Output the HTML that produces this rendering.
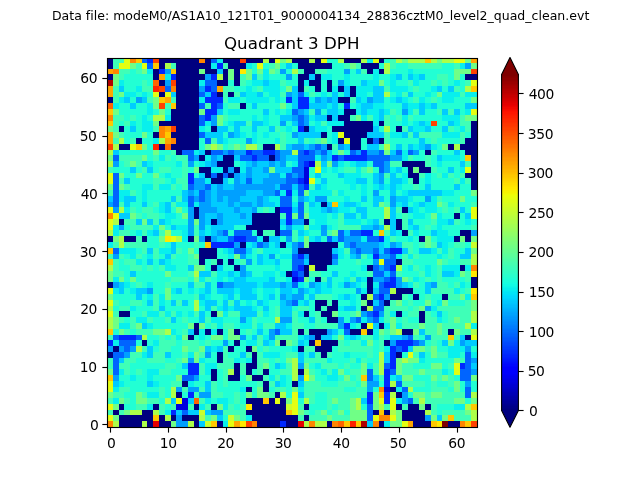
<!DOCTYPE html>
<html lang="en"><head><meta charset="utf-8"><title>Quadrant 3 DPH</title>
<style>html,body{margin:0;padding:0;background:#fff;overflow:hidden}svg{display:block}text{font-family:'DejaVu Sans','Liberation Sans',sans-serif;fill:#000;font-variant-ligatures:none;font-kerning:none}</style></head><body>
<svg width="640" height="480" viewBox="0 0 640 480">
<rect width="640" height="480" fill="#fff"/>
<g shape-rendering="crispEdges">
<path fill="#00007f" d="M107 58h6v5h-6zM159 58h40v5h-40zM205 58h6v5h-6zM223 58h17v5h-17zM246 58h17v5h-17zM269 58h6v5h-6zM292 58h17v5h-17zM315 58h6v5h-6zM344 58h17v5h-17zM379 58h5v5h-5zM107 63h6v6h-6zM159 63h6v6h-6zM176 63h35v6h-35zM228 63h18v6h-18zM298 63h34v6h-34zM361 63h18v6h-18zM153 69h6v5h-6zM176 69h23v5h-23zM205 69h12v5h-12zM223 69h5v5h-5zM234 69h6v5h-6zM304 69h11v5h-11zM367 69h6v5h-6zM379 69h5v5h-5zM107 74h6v6h-6zM153 74h6v6h-6zM176 74h29v6h-29zM223 74h5v6h-5zM234 74h6v6h-6zM298 74h11v6h-11zM315 74h6v6h-6zM465 74h12v6h-12zM159 80h6v6h-6zM176 80h23v6h-23zM217 80h11v6h-11zM234 80h6v6h-6zM298 80h6v6h-6zM309 80h12v6h-12zM327 80h5v6h-5zM176 86h23v6h-23zM298 86h6v6h-6zM315 86h6v6h-6zM327 86h5v6h-5zM338 86h6v6h-6zM350 86h6v6h-6zM159 92h6v5h-6zM176 92h23v5h-23zM217 92h6v5h-6zM228 92h6v5h-6zM350 92h6v5h-6zM107 97h6v6h-6zM176 97h23v6h-23zM338 97h12v6h-12zM176 103h23v6h-23zM240 103h6v6h-6zM171 109h28v6h-28zM344 109h12v6h-12zM171 115h28v6h-28zM327 115h5v6h-5zM338 115h12v6h-12zM159 121h40v5h-40zM344 121h29v5h-29zM379 121h5v5h-5zM471 121h6v5h-6zM119 126h5v6h-5zM176 126h23v6h-23zM211 126h6v6h-6zM304 126h5v6h-5zM332 126h41v6h-41zM396 126h6v6h-6zM471 126h6v6h-6zM153 132h6v6h-6zM171 132h28v6h-28zM321 132h6v6h-6zM344 132h23v6h-23zM471 132h6v6h-6zM136 138h6v6h-6zM176 138h23v6h-23zM338 138h6v6h-6zM350 138h11v6h-11zM367 138h6v6h-6zM379 138h5v6h-5zM465 138h12v6h-12zM119 144h11v6h-11zM159 144h6v6h-6zM171 144h28v6h-28zM263 144h12v6h-12zM327 144h5v6h-5zM350 144h11v6h-11zM448 144h6v6h-6zM460 144h17v6h-17zM176 150h6v5h-6zM205 150h6v5h-6zM425 150h6v5h-6zM465 150h12v5h-12zM199 155h6v6h-6zM223 155h11v6h-11zM269 155h6v6h-6zM471 155h6v6h-6zM217 161h17v6h-17zM402 161h23v6h-23zM471 161h6v6h-6zM199 167h12v6h-12zM223 167h5v6h-5zM234 167h6v6h-6zM408 167h5v6h-5zM419 167h12v6h-12zM471 167h6v6h-6zM205 173h6v5h-6zM217 173h6v5h-6zM228 173h6v5h-6zM408 173h11v5h-11zM465 173h12v5h-12zM211 178h12v6h-12zM413 178h6v6h-6zM471 178h6v6h-6zM471 184h6v6h-6zM321 202h6v5h-6zM194 207h5v6h-5zM275 207h5v6h-5zM402 207h6v6h-6zM194 213h5v6h-5zM252 213h28v6h-28zM454 213h6v6h-6zM119 219h5v6h-5zM211 219h6v6h-6zM252 219h28v6h-28zM304 219h5v6h-5zM384 219h6v6h-6zM396 219h6v6h-6zM246 225h34v5h-34zM396 225h6v5h-6zM257 230h6v6h-6zM275 230h5v6h-5zM402 230h6v6h-6zM460 230h11v6h-11zM107 236h6v6h-6zM124 236h12v6h-12zM142 236h5v6h-5zM188 236h6v6h-6zM205 236h6v6h-6zM263 236h6v6h-6zM419 236h6v6h-6zM454 236h6v6h-6zM465 236h6v6h-6zM240 242h6v6h-6zM280 242h6v6h-6zM309 242h29v6h-29zM199 248h18v6h-18zM298 248h34v6h-34zM199 254h18v5h-18zM309 254h23v5h-23zM199 259h6v6h-6zM217 259h6v6h-6zM228 259h6v6h-6zM309 259h23v6h-23zM396 259h6v6h-6zM211 265h6v6h-6zM234 265h6v6h-6zM304 265h5v6h-5zM315 265h12v6h-12zM367 265h6v6h-6zM460 265h5v6h-5zM286 271h6v6h-6zM304 271h5v6h-5zM315 277h6v5h-6zM367 277h6v5h-6zM471 277h6v5h-6zM107 282h6v6h-6zM367 282h6v6h-6zM471 282h6v6h-6zM367 288h6v6h-6zM396 288h17v6h-17zM361 294h6v6h-6zM390 294h12v6h-12zM413 294h6v6h-6zM442 294h6v6h-6zM315 300h12v6h-12zM332 300h6v6h-6zM367 300h6v6h-6zM384 300h6v6h-6zM315 306h6v5h-6zM327 306h11v5h-11zM361 306h6v5h-6zM119 311h11v6h-11zM211 311h6v6h-6zM304 311h5v6h-5zM321 311h11v6h-11zM396 311h6v6h-6zM419 311h6v6h-6zM327 317h11v6h-11zM419 317h6v6h-6zM194 323h5v6h-5zM361 323h6v6h-6zM379 323h5v6h-5zM194 329h5v6h-5zM205 329h6v6h-6zM217 329h6v6h-6zM234 329h6v6h-6zM298 329h6v6h-6zM309 329h18v6h-18zM350 329h11v6h-11zM367 329h6v6h-6zM402 329h11v6h-11zM448 329h6v6h-6zM188 335h6v5h-6zM315 335h6v5h-6zM465 335h6v5h-6zM142 340h5v6h-5zM234 340h6v6h-6zM280 340h6v6h-6zM309 340h6v6h-6zM321 340h17v6h-17zM384 340h6v6h-6zM113 346h6v6h-6zM228 346h6v6h-6zM246 346h6v6h-6zM298 346h6v6h-6zM315 346h17v6h-17zM107 352h6v6h-6zM217 352h6v6h-6zM252 352h5v6h-5zM321 352h6v6h-6zM396 352h6v6h-6zM217 358h6v5h-6zM252 358h5v5h-5zM234 363h6v6h-6zM246 363h11v6h-11zM211 369h6v6h-6zM234 369h6v6h-6zM246 369h6v6h-6zM263 369h6v6h-6zM298 369h6v6h-6zM211 375h6v6h-6zM228 375h12v6h-12zM252 375h11v6h-11zM182 381h6v6h-6zM263 381h6v6h-6zM292 381h6v6h-6zM246 387h6v5h-6zM263 387h6v5h-6zM390 387h6v5h-6zM176 392h6v6h-6zM275 392h5v6h-5zM396 392h6v6h-6zM246 398h17v6h-17zM269 398h6v6h-6zM280 398h6v6h-6zM119 404h5v6h-5zM153 404h6v6h-6zM194 404h5v6h-5zM211 404h6v6h-6zM252 404h34v6h-34zM304 404h5v6h-5zM396 404h6v6h-6zM408 404h11v6h-11zM425 404h6v6h-6zM113 410h6v5h-6zM142 410h11v5h-11zM246 410h40v5h-40zM373 410h6v5h-6zM384 410h6v5h-6zM402 410h23v5h-23zM119 415h34v6h-34zM159 415h6v6h-6zM171 415h5v6h-5zM182 415h17v6h-17zM252 415h46v6h-46zM304 415h5v6h-5zM402 415h23v6h-23zM119 421h23v7h-23zM147 421h6v7h-6zM159 421h12v7h-12zM194 421h5v7h-5zM217 421h6v7h-6zM257 421h23v7h-23zM286 421h12v7h-12zM327 421h5v7h-5zM379 421h5v7h-5zM413 421h18v7h-18zM448 421h12v7h-12z"/>
<path fill="#3fffb7" d="M113 58h11v5h-11zM390 58h6v5h-6zM113 63h6v6h-6zM136 63h6v6h-6zM171 63h5v6h-5zM223 63h5v6h-5zM269 63h6v6h-6zM344 63h6v6h-6zM356 63h5v6h-5zM390 63h6v6h-6zM408 63h34v6h-34zM454 63h6v6h-6zM119 69h11v5h-11zM136 69h6v5h-6zM275 69h5v5h-5zM298 69h6v5h-6zM315 69h12v5h-12zM361 69h6v5h-6zM119 74h5v6h-5zM240 74h6v6h-6zM257 74h6v6h-6zM437 74h11v6h-11zM142 80h5v6h-5zM240 80h6v6h-6zM280 80h6v6h-6zM408 80h5v6h-5zM431 80h6v6h-6zM442 80h6v6h-6zM465 80h6v6h-6zM113 86h6v6h-6zM142 86h11v6h-11zM223 86h11v6h-11zM257 86h6v6h-6zM304 86h5v6h-5zM384 86h6v6h-6zM413 86h6v6h-6zM454 86h6v6h-6zM113 92h6v5h-6zM223 92h5v5h-5zM234 92h6v5h-6zM280 92h6v5h-6zM309 92h6v5h-6zM402 92h6v5h-6zM460 92h5v5h-5zM113 97h6v6h-6zM147 97h6v6h-6zM171 97h5v6h-5zM223 97h5v6h-5zM350 97h6v6h-6zM413 97h6v6h-6zM431 97h6v6h-6zM165 103h6v6h-6zM205 103h6v6h-6zM228 103h12v6h-12zM309 109h6v6h-6zM390 109h6v6h-6zM413 109h6v6h-6zM437 109h5v6h-5zM448 109h6v6h-6zM113 115h11v6h-11zM130 115h6v6h-6zM223 115h5v6h-5zM350 115h6v6h-6zM367 115h6v6h-6zM384 115h6v6h-6zM396 115h6v6h-6zM408 115h5v6h-5zM460 115h5v6h-5zM113 121h6v5h-6zM124 121h6v5h-6zM246 121h6v5h-6zM321 121h6v5h-6zM384 121h6v5h-6zM460 121h11v5h-11zM113 126h6v6h-6zM153 126h6v6h-6zM275 126h5v6h-5zM402 126h6v6h-6zM448 126h6v6h-6zM465 126h6v6h-6zM119 132h5v6h-5zM280 132h6v6h-6zM384 132h6v6h-6zM408 132h5v6h-5zM419 132h23v6h-23zM460 132h5v6h-5zM113 138h6v6h-6zM130 138h6v6h-6zM211 138h6v6h-6zM280 138h6v6h-6zM304 138h5v6h-5zM315 138h6v6h-6zM384 138h6v6h-6zM431 138h6v6h-6zM460 138h5v6h-5zM228 144h6v6h-6zM240 144h6v6h-6zM257 144h6v6h-6zM280 144h6v6h-6zM332 144h6v6h-6zM379 144h5v6h-5zM171 150h5v5h-5zM431 150h6v5h-6zM119 155h23v6h-23zM153 155h6v6h-6zM165 155h6v6h-6zM176 155h12v6h-12zM408 155h5v6h-5zM425 155h6v6h-6zM124 161h6v6h-6zM136 161h6v6h-6zM182 161h6v6h-6zM390 161h12v6h-12zM425 161h6v6h-6zM465 161h6v6h-6zM107 167h6v6h-6zM142 167h5v6h-5zM159 167h12v6h-12zM182 167h6v6h-6zM344 167h12v6h-12zM361 167h6v6h-6zM431 167h6v6h-6zM182 173h6v5h-6zM384 173h6v5h-6zM419 173h6v5h-6zM437 173h5v5h-5zM448 173h6v5h-6zM460 173h5v5h-5zM119 178h5v6h-5zM153 178h12v6h-12zM176 178h12v6h-12zM408 178h5v6h-5zM454 178h6v6h-6zM465 178h6v6h-6zM124 184h6v6h-6zM153 184h6v6h-6zM171 184h5v6h-5zM182 184h6v6h-6zM309 184h6v6h-6zM413 184h6v6h-6zM107 190h6v6h-6zM130 190h6v6h-6zM332 190h6v6h-6zM176 196h6v6h-6zM437 196h5v6h-5zM119 202h5v5h-5zM153 202h6v5h-6zM171 202h5v5h-5zM304 202h5v5h-5zM384 202h6v5h-6zM442 202h6v5h-6zM471 202h6v5h-6zM130 207h6v6h-6zM142 207h11v6h-11zM263 207h6v6h-6zM304 207h5v6h-5zM396 207h6v6h-6zM442 207h6v6h-6zM454 207h6v6h-6zM136 213h6v6h-6zM147 213h12v6h-12zM280 213h6v6h-6zM338 213h6v6h-6zM402 213h6v6h-6zM124 219h12v6h-12zM153 219h6v6h-6zM338 219h6v6h-6zM379 219h5v6h-5zM402 219h6v6h-6zM431 219h6v6h-6zM454 219h6v6h-6zM130 225h23v5h-23zM194 225h5v5h-5zM338 225h23v5h-23zM402 225h6v5h-6zM425 225h6v5h-6zM471 225h6v5h-6zM119 230h11v6h-11zM142 230h5v6h-5zM159 230h6v6h-6zM194 230h5v6h-5zM263 230h12v6h-12zM292 230h6v6h-6zM327 230h5v6h-5zM384 230h6v6h-6zM408 230h5v6h-5zM136 236h6v6h-6zM292 236h6v6h-6zM390 236h6v6h-6zM113 242h6v6h-6zM124 242h23v6h-23zM159 242h6v6h-6zM194 242h5v6h-5zM402 242h11v6h-11zM419 242h6v6h-6zM431 242h6v6h-6zM454 242h11v6h-11zM142 248h5v6h-5zM153 248h6v6h-6zM176 248h6v6h-6zM257 248h6v6h-6zM344 248h6v6h-6zM408 248h5v6h-5zM437 248h5v6h-5zM448 248h6v6h-6zM107 254h6v5h-6zM119 254h5v5h-5zM136 254h6v5h-6zM153 254h6v5h-6zM171 254h5v5h-5zM188 254h6v5h-6zM361 254h6v5h-6zM402 254h6v5h-6zM413 254h6v5h-6zM448 254h6v5h-6zM113 259h6v6h-6zM124 259h12v6h-12zM188 259h11v6h-11zM211 259h6v6h-6zM240 259h6v6h-6zM356 259h5v6h-5zM402 259h11v6h-11zM442 259h6v6h-6zM460 259h11v6h-11zM113 265h6v6h-6zM130 265h12v6h-12zM147 265h6v6h-6zM159 265h6v6h-6zM413 265h6v6h-6zM437 265h5v6h-5zM113 271h11v6h-11zM188 271h6v6h-6zM211 271h6v6h-6zM309 271h12v6h-12zM367 271h6v6h-6zM396 271h6v6h-6zM419 271h6v6h-6zM437 271h5v6h-5zM465 271h6v6h-6zM171 277h17v5h-17zM205 277h6v5h-6zM321 277h6v5h-6zM350 277h6v5h-6zM408 277h5v5h-5zM425 277h6v5h-6zM437 277h5v5h-5zM465 277h6v5h-6zM136 282h6v6h-6zM165 282h6v6h-6zM194 282h11v6h-11zM413 282h6v6h-6zM437 282h11v6h-11zM454 282h6v6h-6zM431 288h23v6h-23zM465 288h6v6h-6zM153 294h6v6h-6zM194 294h5v6h-5zM315 294h17v6h-17zM402 294h6v6h-6zM425 294h6v6h-6zM448 294h12v6h-12zM113 300h6v6h-6zM130 300h12v6h-12zM153 300h6v6h-6zM176 300h6v6h-6zM228 300h6v6h-6zM327 300h5v6h-5zM390 300h6v6h-6zM408 300h5v6h-5zM465 300h6v6h-6zM119 306h11v5h-11zM153 306h6v5h-6zM211 306h6v5h-6zM275 306h5v5h-5zM298 306h11v5h-11zM321 306h6v5h-6zM384 306h24v5h-24zM413 306h6v5h-6zM437 306h34v5h-34zM113 311h6v6h-6zM142 311h5v6h-5zM159 311h6v6h-6zM171 311h5v6h-5zM194 311h5v6h-5zM228 311h12v6h-12zM257 311h6v6h-6zM275 311h5v6h-5zM292 311h6v6h-6zM315 311h6v6h-6zM350 311h6v6h-6zM384 311h6v6h-6zM408 311h11v6h-11zM425 311h6v6h-6zM448 311h23v6h-23zM119 317h5v6h-5zM130 317h6v6h-6zM147 317h6v6h-6zM165 317h6v6h-6zM182 317h6v6h-6zM205 317h6v6h-6zM252 317h5v6h-5zM292 317h6v6h-6zM315 317h6v6h-6zM384 317h6v6h-6zM402 317h6v6h-6zM425 317h12v6h-12zM448 317h6v6h-6zM460 317h11v6h-11zM130 323h6v6h-6zM211 323h6v6h-6zM223 323h11v6h-11zM252 323h5v6h-5zM263 323h12v6h-12zM292 323h12v6h-12zM315 323h23v6h-23zM402 323h17v6h-17zM425 323h12v6h-12zM442 323h23v6h-23zM124 329h6v6h-6zM136 329h17v6h-17zM182 329h6v6h-6zM246 329h6v6h-6zM292 329h6v6h-6zM304 329h5v6h-5zM384 329h6v6h-6zM425 329h12v6h-12zM442 329h6v6h-6zM460 329h11v6h-11zM107 335h6v5h-6zM159 335h6v5h-6zM171 335h5v5h-5zM257 335h6v5h-6zM275 335h23v5h-23zM361 335h12v5h-12zM379 335h5v5h-5zM413 335h6v5h-6zM431 335h17v5h-17zM454 335h6v5h-6zM159 340h17v6h-17zM182 340h17v6h-17zM205 340h6v6h-6zM257 340h6v6h-6zM292 340h6v6h-6zM338 340h6v6h-6zM350 340h11v6h-11zM379 340h5v6h-5zM431 340h6v6h-6zM142 346h5v6h-5zM159 346h12v6h-12zM188 346h11v6h-11zM223 346h5v6h-5zM263 346h6v6h-6zM304 346h11v6h-11zM338 346h35v6h-35zM379 346h5v6h-5zM425 346h6v6h-6zM130 352h12v6h-12zM153 352h12v6h-12zM182 352h6v6h-6zM199 352h6v6h-6zM223 352h5v6h-5zM246 352h6v6h-6zM257 352h6v6h-6zM286 352h12v6h-12zM315 352h6v6h-6zM327 352h5v6h-5zM367 352h6v6h-6zM413 352h6v6h-6zM437 352h11v6h-11zM107 358h6v5h-6zM124 358h12v5h-12zM147 358h18v5h-18zM176 358h6v5h-6zM223 358h11v5h-11zM257 358h12v5h-12zM275 358h5v5h-5zM304 358h23v5h-23zM350 358h6v5h-6zM361 358h6v5h-6zM460 358h5v5h-5zM107 363h6v6h-6zM119 363h11v6h-11zM165 363h11v6h-11zM199 363h6v6h-6zM217 363h17v6h-17zM240 363h6v6h-6zM257 363h6v6h-6zM286 363h6v6h-6zM321 363h17v6h-17zM344 363h6v6h-6zM373 363h6v6h-6zM402 363h11v6h-11zM448 363h6v6h-6zM124 369h6v6h-6zM136 369h6v6h-6zM159 369h12v6h-12zM199 369h6v6h-6zM223 369h5v6h-5zM240 369h6v6h-6zM257 369h6v6h-6zM280 369h12v6h-12zM309 369h6v6h-6zM327 369h5v6h-5zM350 369h11v6h-11zM373 369h6v6h-6zM402 369h17v6h-17zM425 369h17v6h-17zM223 375h5v6h-5zM263 375h6v6h-6zM275 375h5v6h-5zM356 375h5v6h-5zM379 375h5v6h-5zM437 375h5v6h-5zM448 375h6v6h-6zM171 381h11v6h-11zM211 381h6v6h-6zM223 381h5v6h-5zM257 381h6v6h-6zM269 381h6v6h-6zM304 381h17v6h-17zM338 381h18v6h-18zM402 381h23v6h-23zM431 381h6v6h-6zM448 381h6v6h-6zM119 387h11v5h-11zM159 387h6v5h-6zM182 387h6v5h-6zM199 387h6v5h-6zM211 387h6v5h-6zM275 387h11v5h-11zM304 387h40v5h-40zM356 387h11v5h-11zM431 387h17v5h-17zM113 392h11v6h-11zM142 392h5v6h-5zM159 392h6v6h-6zM194 392h5v6h-5zM211 392h12v6h-12zM234 392h6v6h-6zM269 392h6v6h-6zM304 392h11v6h-11zM327 392h40v6h-40zM425 392h6v6h-6zM442 392h23v6h-23zM107 398h6v6h-6zM124 398h6v6h-6zM147 398h12v6h-12zM199 398h6v6h-6zM234 398h6v6h-6zM309 398h6v6h-6zM327 398h5v6h-5zM338 398h12v6h-12zM413 398h6v6h-6zM425 398h29v6h-29zM136 404h11v6h-11zM159 404h6v6h-6zM171 404h5v6h-5zM188 404h6v6h-6zM205 404h6v6h-6zM228 404h6v6h-6zM240 404h6v6h-6zM298 404h6v6h-6zM327 404h5v6h-5zM338 404h12v6h-12zM384 404h6v6h-6zM402 404h6v6h-6zM431 404h6v6h-6zM107 410h6v5h-6zM119 410h5v5h-5zM159 410h6v5h-6zM223 410h23v5h-23zM304 410h5v5h-5zM315 410h6v5h-6zM332 410h6v5h-6zM431 410h6v5h-6zM442 410h23v5h-23zM205 415h6v6h-6zM240 415h6v6h-6zM298 415h6v6h-6zM309 415h18v6h-18zM332 415h18v6h-18zM454 415h17v6h-17z"/>
<path fill="#e4ff12" d="M124 58h6v5h-6zM275 58h5v5h-5zM321 58h6v5h-6zM373 58h6v5h-6zM454 58h11v5h-11zM119 63h11v6h-11zM142 63h5v6h-5zM257 63h6v6h-6zM471 80h6v6h-6zM153 92h6v5h-6zM165 92h6v5h-6zM471 109h6v6h-6zM338 132h6v6h-6zM344 138h6v6h-6zM130 144h6v6h-6zM315 167h6v6h-6zM465 167h6v6h-6zM107 173h6v5h-6zM107 178h6v6h-6zM309 178h6v6h-6zM107 207h6v6h-6zM471 207h6v6h-6zM113 213h6v6h-6zM471 213h6v6h-6zM107 219h6v6h-6zM107 225h6v5h-6zM171 236h5v6h-5zM379 259h5v6h-5zM107 288h6v6h-6zM107 300h6v6h-6zM107 311h6v6h-6zM367 323h6v6h-6zM471 335h6v5h-6zM408 352h5v6h-5zM454 363h6v6h-6zM454 369h6v6h-6zM304 375h5v6h-5zM107 381h6v6h-6zM107 387h6v5h-6zM292 392h6v6h-6zM176 398h6v6h-6zM275 398h5v6h-5zM292 398h6v6h-6zM379 398h5v6h-5zM390 398h6v6h-6zM107 404h6v6h-6zM292 404h6v6h-6zM390 404h6v6h-6zM292 410h6v5h-6zM107 415h6v6h-6zM373 415h6v6h-6zM390 415h6v6h-6zM228 421h6v7h-6zM402 421h6v7h-6z"/>
<path fill="#ff8500" d="M130 58h6v5h-6zM199 58h6v5h-6zM113 69h6v5h-6zM171 86h5v6h-5zM107 115h6v6h-6zM159 126h6v6h-6zM159 132h6v6h-6zM171 138h5v6h-5zM107 213h6v6h-6zM471 265h6v6h-6zM379 387h5v5h-5zM379 415h11v6h-11zM107 421h6v7h-6zM252 421h5v7h-5zM309 421h6v7h-6zM332 421h6v7h-6zM373 421h6v7h-6zM460 421h5v7h-5z"/>
<path fill="#ffc800" d="M136 58h6v5h-6zM425 58h6v5h-6zM153 63h6v6h-6zM171 69h5v5h-5zM471 86h6v6h-6zM159 97h6v6h-6zM171 103h5v6h-5zM107 109h6v6h-6zM107 121h6v5h-6zM165 132h6v6h-6zM136 144h6v6h-6zM465 155h6v6h-6zM332 202h6v5h-6zM379 230h5v6h-5zM205 242h6v6h-6zM107 248h6v6h-6zM107 259h6v6h-6zM471 294h6v6h-6zM107 329h6v6h-6zM361 329h6v6h-6zM448 335h6v5h-6zM315 340h6v6h-6zM107 375h6v6h-6zM361 375h6v6h-6zM379 392h5v6h-5zM263 398h6v6h-6zM471 404h6v6h-6zM286 410h6v5h-6zM379 410h5v5h-5zM153 415h6v6h-6zM448 415h6v6h-6zM211 421h6v7h-6zM344 421h6v7h-6zM356 421h5v7h-5zM431 421h6v7h-6zM465 421h6v7h-6z"/>
<path fill="#0064ff" d="M142 58h5v5h-5zM211 58h6v5h-6zM147 63h6v6h-6zM205 80h12v6h-12zM165 86h6v6h-6zM211 86h6v6h-6zM199 92h6v5h-6zM298 92h6v5h-6zM199 103h6v6h-6zM217 103h6v6h-6zM292 109h6v6h-6zM199 115h6v6h-6zM298 115h6v6h-6zM199 121h6v5h-6zM298 121h6v5h-6zM199 132h6v6h-6zM205 138h6v6h-6zM373 138h6v6h-6zM315 144h6v6h-6zM182 150h12v5h-12zM211 150h12v5h-12zM228 150h6v5h-6zM252 150h11v5h-11zM275 150h5v5h-5zM298 150h6v5h-6zM309 150h6v5h-6zM321 150h6v5h-6zM350 150h6v5h-6zM379 150h5v5h-5zM396 150h6v5h-6zM408 150h5v5h-5zM113 155h6v6h-6zM188 155h6v6h-6zM240 155h12v6h-12zM257 155h12v6h-12zM275 155h5v6h-5zM298 155h17v6h-17zM338 155h6v6h-6zM367 155h23v6h-23zM298 161h6v6h-6zM373 161h11v6h-11zM292 167h12v6h-12zM379 167h5v6h-5zM113 173h6v5h-6zM211 173h6v5h-6zM223 173h5v5h-5zM286 173h6v5h-6zM298 173h6v5h-6zM113 178h6v6h-6zM246 178h6v6h-6zM286 178h12v6h-12zM113 184h6v6h-6zM188 184h6v6h-6zM205 184h6v6h-6zM280 184h12v6h-12zM298 184h6v6h-6zM113 190h6v6h-6zM199 190h6v6h-6zM275 190h5v6h-5zM298 190h6v6h-6zM113 196h6v6h-6zM188 196h6v6h-6zM199 196h6v6h-6zM280 196h12v6h-12zM113 202h6v5h-6zM188 202h6v5h-6zM280 202h12v5h-12zM298 202h6v5h-6zM298 207h6v6h-6zM298 213h6v6h-6zM223 230h5v6h-5zM234 230h18v6h-18zM280 230h12v6h-12zM338 230h6v6h-6zM350 230h11v6h-11zM228 236h6v6h-6zM246 236h11v6h-11zM327 236h5v6h-5zM338 236h6v6h-6zM367 236h12v6h-12zM257 242h6v6h-6zM298 242h6v6h-6zM350 242h6v6h-6zM113 248h6v6h-6zM234 248h12v6h-12zM356 248h5v6h-5zM373 248h6v6h-6zM384 248h6v6h-6zM292 254h6v5h-6zM332 254h6v5h-6zM390 254h6v5h-6zM292 259h12v6h-12zM384 259h12v6h-12zM292 265h6v6h-6zM373 265h6v6h-6zM384 265h6v6h-6zM298 271h6v6h-6zM373 271h11v6h-11zM390 271h6v6h-6zM384 277h6v5h-6zM217 282h6v6h-6zM292 282h6v6h-6zM379 282h5v6h-5zM379 288h11v6h-11zM373 294h6v6h-6zM292 300h6v6h-6zM379 300h5v6h-5zM373 306h11v5h-11zM367 311h6v6h-6zM356 317h5v6h-5zM373 317h6v6h-6zM275 329h5v6h-5zM344 329h6v6h-6zM113 335h6v5h-6zM136 335h6v5h-6zM408 335h5v5h-5zM119 340h17v6h-17zM413 340h6v6h-6zM124 346h6v6h-6zM396 346h6v6h-6zM113 352h11v6h-11zM465 352h6v6h-6zM113 358h6v5h-6zM465 358h6v5h-6zM113 363h6v6h-6zM384 363h6v6h-6zM465 363h6v6h-6zM113 369h6v6h-6zM367 369h6v6h-6zM390 369h6v6h-6zM460 369h11v6h-11zM182 375h12v6h-12zM367 375h6v6h-6zM460 375h11v6h-11zM396 381h6v6h-6zM402 387h6v5h-6zM465 387h6v5h-6zM465 392h6v6h-6zM408 398h5v6h-5zM367 404h6v6h-6zM182 410h6v5h-6zM367 410h6v5h-6zM367 415h6v6h-6z"/>
<path fill="#0028ff" d="M147 58h6v5h-6zM217 63h6v6h-6zM159 69h6v5h-6zM171 74h5v6h-5zM211 74h6v6h-6zM205 86h6v6h-6zM211 92h6v5h-6zM205 97h18v6h-18zM286 97h6v6h-6zM298 97h11v6h-11zM211 103h6v6h-6zM298 103h11v6h-11zM344 103h6v6h-6zM205 109h12v6h-12zM205 115h6v6h-6zM298 126h6v6h-6zM246 150h6v5h-6zM263 150h12v5h-12zM304 150h5v5h-5zM361 150h6v5h-6zM252 155h5v6h-5zM332 155h6v6h-6zM344 155h23v6h-23zM304 161h5v6h-5zM188 173h6v5h-6zM188 178h6v6h-6zM298 178h6v6h-6zM304 184h5v6h-5zM286 190h6v6h-6zM280 207h12v6h-12zM286 213h6v6h-6zM286 219h6v6h-6zM361 230h12v6h-12zM234 236h12v6h-12zM379 236h5v6h-5zM211 242h23v6h-23zM390 248h12v6h-12zM298 254h6v5h-6zM373 254h6v5h-6zM298 265h6v6h-6zM390 265h6v6h-6zM292 271h6v6h-6zM298 277h6v5h-6zM390 277h6v5h-6zM384 282h12v6h-12zM379 294h5v6h-5zM373 311h6v6h-6zM344 323h6v6h-6zM119 335h17v5h-17zM107 340h6v6h-6zM396 340h17v6h-17zM390 346h6v6h-6zM402 346h6v6h-6zM390 352h6v6h-6zM390 358h6v5h-6zM188 363h11v6h-11zM390 363h6v6h-6zM460 363h5v6h-5zM188 369h11v6h-11zM384 369h6v6h-6zM384 375h6v6h-6zM384 381h6v6h-6zM188 392h6v6h-6zM367 392h6v6h-6zM384 392h6v6h-6zM367 398h6v6h-6zM384 398h6v6h-6zM171 410h5v5h-5zM280 421h6v7h-6z"/>
<path fill="#ff4200" d="M153 58h6v5h-6zM240 58h6v5h-6zM471 69h6v5h-6zM171 80h5v6h-5zM159 86h6v6h-6zM159 103h6v6h-6zM431 121h6v5h-6zM171 126h5v6h-5zM107 144h6v6h-6zM246 421h6v7h-6zM471 421h6v7h-6z"/>
<path fill="#08f0ed" d="M217 58h6v5h-6zM367 58h6v5h-6zM211 63h6v6h-6zM246 63h6v6h-6zM460 63h5v6h-5zM147 69h6v5h-6zM263 69h6v5h-6zM373 69h6v5h-6zM408 69h5v5h-5zM165 74h6v6h-6zM263 74h6v6h-6zM321 74h11v6h-11zM344 74h6v6h-6zM373 74h6v6h-6zM390 74h6v6h-6zM413 74h6v6h-6zM119 80h5v6h-5zM199 80h6v6h-6zM252 80h11v6h-11zM269 80h11v6h-11zM304 80h5v6h-5zM344 80h6v6h-6zM367 80h12v6h-12zM390 80h6v6h-6zM413 80h6v6h-6zM454 80h6v6h-6zM136 86h6v6h-6zM246 86h6v6h-6zM263 86h17v6h-17zM332 86h6v6h-6zM356 86h17v6h-17zM390 86h18v6h-18zM431 86h6v6h-6zM124 92h12v5h-12zM142 92h5v5h-5zM246 92h11v5h-11zM269 92h11v5h-11zM304 92h5v5h-5zM321 92h6v5h-6zM356 92h11v5h-11zM396 92h6v5h-6zM425 92h6v5h-6zM442 92h18v5h-18zM465 92h12v5h-12zM119 97h5v6h-5zM199 97h6v6h-6zM228 97h12v6h-12zM246 97h23v6h-23zM275 97h5v6h-5zM309 97h6v6h-6zM361 97h6v6h-6zM390 97h6v6h-6zM402 97h6v6h-6zM419 97h6v6h-6zM442 97h12v6h-12zM113 103h6v6h-6zM147 103h6v6h-6zM327 103h5v6h-5zM356 103h5v6h-5zM373 103h11v6h-11zM408 103h11v6h-11zM425 103h6v6h-6zM147 109h6v6h-6zM228 109h12v6h-12zM275 109h5v6h-5zM286 109h6v6h-6zM338 109h6v6h-6zM356 109h5v6h-5zM367 109h12v6h-12zM384 109h6v6h-6zM408 109h5v6h-5zM465 109h6v6h-6zM142 115h5v6h-5zM165 115h6v6h-6zM252 115h5v6h-5zM263 115h6v6h-6zM309 115h6v6h-6zM361 115h6v6h-6zM373 115h6v6h-6zM402 115h6v6h-6zM442 115h18v6h-18zM130 121h6v5h-6zM142 121h11v5h-11zM205 121h6v5h-6zM228 121h6v5h-6zM263 121h6v5h-6zM315 121h6v5h-6zM327 121h17v5h-17zM373 121h6v5h-6zM402 121h6v5h-6zM413 121h6v5h-6zM425 121h6v5h-6zM454 121h6v5h-6zM142 126h11v6h-11zM199 126h6v6h-6zM286 126h6v6h-6zM315 126h12v6h-12zM413 126h12v6h-12zM460 126h5v6h-5zM240 132h6v6h-6zM252 132h5v6h-5zM263 132h6v6h-6zM332 132h6v6h-6zM390 132h12v6h-12zM442 132h18v6h-18zM153 138h6v6h-6zM223 138h5v6h-5zM252 138h5v6h-5zM275 138h5v6h-5zM332 138h6v6h-6zM413 144h6v6h-6zM431 144h6v6h-6zM194 150h5v5h-5zM402 150h6v5h-6zM159 155h6v6h-6zM205 155h6v6h-6zM315 155h6v6h-6zM402 155h6v6h-6zM442 155h18v6h-18zM147 161h6v6h-6zM176 161h6v6h-6zM199 161h6v6h-6zM240 161h6v6h-6zM292 161h6v6h-6zM338 161h6v6h-6zM350 161h6v6h-6zM437 161h5v6h-5zM211 167h12v6h-12zM240 167h6v6h-6zM321 167h6v6h-6zM332 167h6v6h-6zM356 167h5v6h-5zM390 167h6v6h-6zM460 167h5v6h-5zM165 173h6v5h-6zM280 173h6v5h-6zM344 173h17v5h-17zM402 173h6v5h-6zM425 173h6v5h-6zM442 173h6v5h-6zM171 178h5v6h-5zM205 178h6v6h-6zM344 178h12v6h-12zM402 178h6v6h-6zM425 178h6v6h-6zM460 178h5v6h-5zM142 184h11v6h-11zM159 184h12v6h-12zM321 184h6v6h-6zM350 184h6v6h-6zM361 184h6v6h-6zM373 184h6v6h-6zM384 184h6v6h-6zM396 184h6v6h-6zM119 190h11v6h-11zM142 190h5v6h-5zM280 190h6v6h-6zM292 190h6v6h-6zM309 190h23v6h-23zM338 190h6v6h-6zM361 190h6v6h-6zM402 190h6v6h-6zM442 190h12v6h-12zM119 196h5v6h-5zM142 196h5v6h-5zM269 196h11v6h-11zM309 196h6v6h-6zM344 196h6v6h-6zM408 196h5v6h-5zM431 196h6v6h-6zM159 202h6v5h-6zM176 202h12v5h-12zM194 202h5v5h-5zM275 202h5v5h-5zM292 202h6v5h-6zM315 202h6v5h-6zM338 202h6v5h-6zM356 202h5v5h-5zM396 202h6v5h-6zM413 202h6v5h-6zM425 202h12v5h-12zM448 202h6v5h-6zM124 207h6v6h-6zM159 207h6v6h-6zM309 207h12v6h-12zM338 207h12v6h-12zM413 207h6v6h-6zM425 207h12v6h-12zM165 213h11v6h-11zM309 213h18v6h-18zM332 213h6v6h-6zM413 213h12v6h-12zM437 213h5v6h-5zM165 219h6v6h-6zM315 219h12v6h-12zM344 219h17v6h-17zM367 219h6v6h-6zM437 219h11v6h-11zM465 219h6v6h-6zM113 225h6v5h-6zM153 225h6v5h-6zM176 225h12v5h-12zM205 225h6v5h-6zM280 225h6v5h-6zM292 225h12v5h-12zM309 225h12v5h-12zM327 225h5v5h-5zM408 225h5v5h-5zM437 225h5v5h-5zM113 230h6v6h-6zM136 230h6v6h-6zM147 230h6v6h-6zM182 230h6v6h-6zM205 230h6v6h-6zM304 230h5v6h-5zM396 230h6v6h-6zM413 230h6v6h-6zM437 230h11v6h-11zM182 236h6v6h-6zM257 236h6v6h-6zM298 236h6v6h-6zM309 236h6v6h-6zM361 236h6v6h-6zM384 236h6v6h-6zM408 236h5v6h-5zM437 236h17v6h-17zM107 242h6v6h-6zM246 242h6v6h-6zM269 242h6v6h-6zM286 242h6v6h-6zM384 242h6v6h-6zM442 242h6v6h-6zM119 248h17v6h-17zM159 248h12v6h-12zM223 248h5v6h-5zM263 248h17v6h-17zM338 248h6v6h-6zM431 248h6v6h-6zM442 248h6v6h-6zM130 254h6v5h-6zM147 254h6v5h-6zM228 254h6v5h-6zM246 254h6v5h-6zM263 254h6v5h-6zM280 254h12v5h-12zM338 254h6v5h-6zM367 254h6v5h-6zM396 254h6v5h-6zM408 254h5v5h-5zM437 254h5v5h-5zM136 259h6v6h-6zM165 259h6v6h-6zM263 259h12v6h-12zM165 265h11v6h-11zM275 265h5v6h-5zM361 265h6v6h-6zM408 265h5v6h-5zM425 265h6v6h-6zM442 265h18v6h-18zM465 265h6v6h-6zM217 271h11v6h-11zM234 271h6v6h-6zM263 271h12v6h-12zM280 271h6v6h-6zM350 271h6v6h-6zM425 271h6v6h-6zM454 271h6v6h-6zM113 277h6v5h-6zM199 277h6v5h-6zM217 277h6v5h-6zM228 277h6v5h-6zM246 277h23v5h-23zM286 277h6v5h-6zM344 277h6v5h-6zM361 277h6v5h-6zM413 277h6v5h-6zM124 282h6v6h-6zM147 282h6v6h-6zM257 282h6v6h-6zM298 282h6v6h-6zM321 282h6v6h-6zM338 282h6v6h-6zM356 282h5v6h-5zM373 282h6v6h-6zM408 282h5v6h-5zM460 282h5v6h-5zM113 288h6v6h-6zM130 288h6v6h-6zM171 288h5v6h-5zM188 288h6v6h-6zM199 288h6v6h-6zM234 288h6v6h-6zM252 288h5v6h-5zM263 288h12v6h-12zM292 288h6v6h-6zM309 288h6v6h-6zM321 288h11v6h-11zM361 288h6v6h-6zM454 288h6v6h-6zM147 294h6v6h-6zM159 294h6v6h-6zM205 294h6v6h-6zM223 294h5v6h-5zM263 294h6v6h-6zM338 294h6v6h-6zM350 294h6v6h-6zM465 294h6v6h-6zM159 300h6v6h-6zM199 300h6v6h-6zM246 300h6v6h-6zM263 300h6v6h-6zM298 300h6v6h-6zM350 300h6v6h-6zM437 300h5v6h-5zM130 306h6v5h-6zM217 306h6v5h-6zM228 306h6v5h-6zM252 306h5v5h-5zM338 306h6v5h-6zM431 306h6v5h-6zM147 311h12v6h-12zM165 311h6v6h-6zM176 311h6v6h-6zM188 311h6v6h-6zM223 311h5v6h-5zM263 311h6v6h-6zM298 311h6v6h-6zM390 311h6v6h-6zM136 317h11v6h-11zM211 317h12v6h-12zM246 317h6v6h-6zM361 317h6v6h-6zM379 317h5v6h-5zM437 317h5v6h-5zM119 323h11v6h-11zM147 323h6v6h-6zM217 323h6v6h-6zM240 323h12v6h-12zM257 323h6v6h-6zM286 323h6v6h-6zM350 323h6v6h-6zM384 323h6v6h-6zM396 323h6v6h-6zM471 323h6v6h-6zM171 329h5v6h-5zM199 329h6v6h-6zM211 329h6v6h-6zM373 329h6v6h-6zM176 335h6v5h-6zM199 335h6v5h-6zM263 335h6v5h-6zM298 335h6v5h-6zM344 335h6v5h-6zM356 335h5v5h-5zM373 335h6v5h-6zM113 340h6v6h-6zM153 340h6v6h-6zM246 340h11v6h-11zM269 340h6v6h-6zM304 340h5v6h-5zM361 340h6v6h-6zM454 340h6v6h-6zM211 346h6v6h-6zM292 346h6v6h-6zM384 346h6v6h-6zM448 346h17v6h-17zM142 352h5v6h-5zM188 352h6v6h-6zM263 352h17v6h-17zM344 352h6v6h-6zM448 352h12v6h-12zM471 352h6v6h-6zM199 358h6v5h-6zM234 358h6v5h-6zM246 358h6v5h-6zM327 358h5v5h-5zM356 358h5v5h-5zM419 358h6v5h-6zM205 363h12v6h-12zM280 363h6v6h-6zM315 363h6v6h-6zM367 363h6v6h-6zM119 369h5v6h-5zM147 369h12v6h-12zM205 369h6v6h-6zM321 369h6v6h-6zM332 369h6v6h-6zM442 369h6v6h-6zM130 375h6v6h-6zM147 375h6v6h-6zM269 375h6v6h-6zM280 375h6v6h-6zM327 375h11v6h-11zM390 375h6v6h-6zM119 381h5v6h-5zM153 381h6v6h-6zM188 381h6v6h-6zM280 381h6v6h-6zM113 387h6v5h-6zM240 387h6v5h-6zM298 387h6v5h-6zM396 387h6v5h-6zM147 392h12v6h-12zM113 398h6v6h-6zM205 398h6v6h-6zM217 398h11v6h-11zM396 398h6v6h-6zM147 404h6v6h-6zM199 404h6v6h-6zM223 404h5v6h-5zM454 404h11v6h-11zM165 410h6v5h-6zM246 415h6v6h-6zM223 421h5v7h-5zM384 421h6v7h-6z"/>
<path fill="#adff49" d="M263 58h6v5h-6zM286 58h6v5h-6zM309 58h6v5h-6zM338 58h6v5h-6zM361 58h6v5h-6zM396 58h6v5h-6zM408 58h17v5h-17zM431 58h6v5h-6zM442 58h12v5h-12zM165 63h6v6h-6zM384 63h6v6h-6zM292 69h6v5h-6zM384 69h6v5h-6zM217 74h6v6h-6zM465 86h6v6h-6zM384 92h6v5h-6zM153 115h12v6h-12zM384 126h6v6h-6zM119 138h5v6h-5zM159 138h6v6h-6zM113 144h6v6h-6zM211 144h6v6h-6zM246 144h11v6h-11zM275 144h5v6h-5zM384 144h6v6h-6zM454 144h6v6h-6zM107 150h6v5h-6zM292 150h6v5h-6zM107 161h6v6h-6zM315 161h6v6h-6zM119 207h5v6h-5zM384 207h6v6h-6zM384 213h6v6h-6zM113 219h6v6h-6zM384 225h6v5h-6zM107 230h6v6h-6zM165 230h6v6h-6zM119 236h5v6h-5zM176 236h6v6h-6zM119 242h5v6h-5zM471 254h6v5h-6zM471 259h6v6h-6zM107 265h6v6h-6zM396 265h6v6h-6zM194 271h5v6h-5zM390 288h6v6h-6zM367 294h6v6h-6zM194 300h5v6h-5zM107 306h6v5h-6zM194 306h5v5h-5zM367 306h6v5h-6zM471 311h6v6h-6zM107 317h6v6h-6zM275 317h5v6h-5zM471 317h6v6h-6zM107 323h6v6h-6zM465 323h6v6h-6zM165 329h6v6h-6zM396 329h6v6h-6zM471 329h6v6h-6zM142 335h5v5h-5zM136 346h6v6h-6zM379 352h5v6h-5zM292 358h6v5h-6zM379 358h5v5h-5zM402 358h6v5h-6zM292 363h6v6h-6zM379 363h5v6h-5zM228 369h6v6h-6zM292 369h6v6h-6zM304 369h5v6h-5zM379 369h5v6h-5zM292 375h6v6h-6zM390 381h6v6h-6zM171 387h5v5h-5zM408 387h5v5h-5zM171 392h5v6h-5zM280 392h6v6h-6zM390 392h6v6h-6zM471 392h6v6h-6zM165 398h6v6h-6zM304 398h5v6h-5zM356 398h5v6h-5zM419 398h6v6h-6zM356 404h5v6h-5zM379 404h5v6h-5zM465 404h6v6h-6zM130 410h12v5h-12zM153 410h6v5h-6zM390 410h6v5h-6zM425 410h6v5h-6zM471 410h6v5h-6zM165 415h6v6h-6zM199 415h6v6h-6zM471 415h6v6h-6zM113 421h6v7h-6zM142 421h5v7h-5zM188 421h6v7h-6zM304 421h5v7h-5zM315 421h12v7h-12z"/>
<path fill="#70ff86" d="M280 58h6v5h-6zM402 58h6v5h-6zM437 58h5v5h-5zM465 58h6v5h-6zM130 63h6v6h-6zM275 63h5v6h-5zM350 63h6v6h-6zM471 63h6v6h-6zM142 69h5v5h-5zM199 69h6v5h-6zM228 69h6v5h-6zM246 69h6v5h-6zM257 69h6v5h-6zM269 69h6v5h-6zM454 69h17v5h-17zM113 74h6v6h-6zM228 74h6v6h-6zM246 74h6v6h-6zM454 74h6v6h-6zM113 80h6v6h-6zM379 80h5v6h-5zM286 86h6v6h-6zM119 92h5v5h-5zM437 92h5v5h-5zM153 97h6v6h-6zM471 97h6v6h-6zM153 103h6v6h-6zM280 103h6v6h-6zM113 109h6v6h-6zM159 109h6v6h-6zM199 109h6v6h-6zM217 115h6v6h-6zM356 115h5v6h-5zM465 115h12v6h-12zM153 121h6v5h-6zM217 121h6v5h-6zM107 126h6v6h-6zM113 132h6v6h-6zM142 132h5v6h-5zM321 138h6v6h-6zM142 144h5v6h-5zM205 144h6v6h-6zM217 144h6v6h-6zM234 144h6v6h-6zM442 144h6v6h-6zM153 150h6v5h-6zM338 150h6v5h-6zM384 150h6v5h-6zM107 155h6v6h-6zM142 155h5v6h-5zM130 161h6v6h-6zM327 161h5v6h-5zM194 167h5v6h-5zM269 167h6v6h-6zM367 167h6v6h-6zM413 167h6v6h-6zM119 173h5v5h-5zM136 173h6v5h-6zM153 173h6v5h-6zM107 184h6v6h-6zM119 184h5v6h-5zM304 190h5v6h-5zM471 190h6v6h-6zM460 196h5v6h-5zM379 202h5v5h-5zM437 202h5v5h-5zM176 207h6v6h-6zM130 213h6v6h-6zM182 213h6v6h-6zM292 213h6v6h-6zM304 213h5v6h-5zM431 213h6v6h-6zM142 219h5v6h-5zM194 219h5v6h-5zM159 225h6v5h-6zM304 225h5v5h-5zM332 230h6v6h-6zM113 236h6v6h-6zM159 236h6v6h-6zM194 236h5v6h-5zM304 236h5v6h-5zM425 236h6v6h-6zM460 236h5v6h-5zM471 236h6v6h-6zM304 242h5v6h-5zM425 242h6v6h-6zM188 248h6v6h-6zM471 248h6v6h-6zM194 254h5v5h-5zM234 254h6v5h-6zM437 259h5v6h-5zM194 265h11v6h-11zM107 271h6v6h-6zM165 271h6v6h-6zM460 271h5v6h-5zM107 277h6v5h-6zM119 277h5v5h-5zM130 277h6v5h-6zM194 277h5v5h-5zM304 277h5v5h-5zM402 277h6v5h-6zM165 288h6v6h-6zM107 294h6v6h-6zM165 294h6v6h-6zM460 294h5v6h-5zM361 300h6v6h-6zM396 300h6v6h-6zM425 300h6v6h-6zM442 300h6v6h-6zM471 300h6v6h-6zM419 306h6v5h-6zM471 306h6v5h-6zM217 311h6v6h-6zM332 311h6v6h-6zM356 311h5v6h-5zM113 317h6v6h-6zM390 317h6v6h-6zM454 317h6v6h-6zM113 323h6v6h-6zM136 323h6v6h-6zM188 323h6v6h-6zM199 323h6v6h-6zM390 323h6v6h-6zM419 323h6v6h-6zM437 323h5v6h-5zM119 329h5v6h-5zM153 329h12v6h-12zM228 329h6v6h-6zM379 329h5v6h-5zM390 329h6v6h-6zM413 329h6v6h-6zM437 329h5v6h-5zM454 329h6v6h-6zM182 335h6v5h-6zM211 335h12v5h-12zM228 335h12v5h-12zM338 335h6v5h-6zM275 340h5v6h-5zM286 340h6v6h-6zM367 340h6v6h-6zM448 340h6v6h-6zM182 346h6v6h-6zM199 346h6v6h-6zM252 346h5v6h-5zM413 346h12v6h-12zM431 346h6v6h-6zM194 352h5v6h-5zM431 352h6v6h-6zM182 358h6v5h-6zM194 358h5v5h-5zM286 358h6v5h-6zM396 358h6v5h-6zM408 358h11v5h-11zM454 358h6v5h-6zM263 363h6v6h-6zM304 363h5v6h-5zM361 363h6v6h-6zM396 363h6v6h-6zM431 363h11v6h-11zM107 369h6v6h-6zM338 369h6v6h-6zM361 369h6v6h-6zM396 369h6v6h-6zM419 369h6v6h-6zM176 375h6v6h-6zM246 375h6v6h-6zM309 375h6v6h-6zM344 375h6v6h-6zM402 375h11v6h-11zM431 375h6v6h-6zM442 375h6v6h-6zM471 375h6v6h-6zM361 381h6v6h-6zM454 381h6v6h-6zM257 387h6v5h-6zM292 387h6v5h-6zM454 387h6v5h-6zM107 392h6v6h-6zM136 392h6v6h-6zM246 392h6v6h-6zM257 392h12v6h-12zM373 392h6v6h-6zM413 392h12v6h-12zM431 392h11v6h-11zM119 398h5v6h-5zM136 398h11v6h-11zM286 398h6v6h-6zM332 398h6v6h-6zM350 398h6v6h-6zM373 398h6v6h-6zM454 398h11v6h-11zM471 398h6v6h-6zM113 404h6v6h-6zM217 404h6v6h-6zM350 404h6v6h-6zM373 404h6v6h-6zM419 404h6v6h-6zM124 410h6v5h-6zM298 410h6v5h-6zM321 410h6v5h-6zM338 410h6v5h-6zM350 410h17v5h-17zM396 410h6v5h-6zM465 410h6v5h-6zM113 415h6v6h-6zM211 415h6v6h-6zM234 415h6v6h-6zM327 415h5v6h-5zM350 415h17v6h-17zM396 415h6v6h-6zM431 415h6v6h-6zM442 415h6v6h-6zM171 421h5v7h-5zM390 421h12v7h-12z"/>
<path fill="#22ffd4" d="M327 58h11v5h-11zM384 58h6v5h-6zM252 63h5v6h-5zM263 63h6v6h-6zM280 63h6v6h-6zM292 63h6v6h-6zM332 63h12v6h-12zM379 63h5v6h-5zM396 63h12v6h-12zM442 63h12v6h-12zM130 69h6v5h-6zM252 69h5v5h-5zM286 69h6v5h-6zM327 69h17v5h-17zM350 69h6v5h-6zM390 69h18v5h-18zM413 69h41v5h-41zM124 74h29v6h-29zM269 74h17v6h-17zM292 74h6v6h-6zM332 74h12v6h-12zM350 74h23v6h-23zM379 74h11v6h-11zM402 74h6v6h-6zM425 74h12v6h-12zM448 74h6v6h-6zM460 74h5v6h-5zM124 80h18v6h-18zM147 80h6v6h-6zM228 80h6v6h-6zM246 80h6v6h-6zM286 80h12v6h-12zM321 80h6v6h-6zM332 80h6v6h-6zM350 80h11v6h-11zM384 80h6v6h-6zM396 80h12v6h-12zM419 80h12v6h-12zM437 80h5v6h-5zM448 80h6v6h-6zM460 80h5v6h-5zM124 86h12v6h-12zM234 86h12v6h-12zM252 86h5v6h-5zM280 86h6v6h-6zM309 86h6v6h-6zM321 86h6v6h-6zM408 86h5v6h-5zM419 86h12v6h-12zM442 86h6v6h-6zM460 86h5v6h-5zM136 92h6v5h-6zM147 92h6v5h-6zM263 92h6v5h-6zM315 92h6v5h-6zM327 92h5v5h-5zM338 92h6v5h-6zM367 92h6v5h-6zM390 92h6v5h-6zM413 92h12v5h-12zM431 92h6v5h-6zM130 97h6v6h-6zM240 97h6v6h-6zM269 97h6v6h-6zM280 97h6v6h-6zM384 97h6v6h-6zM408 97h5v6h-5zM425 97h6v6h-6zM437 97h5v6h-5zM454 97h17v6h-17zM119 103h11v6h-11zM136 103h11v6h-11zM223 103h5v6h-5zM246 103h6v6h-6zM257 103h23v6h-23zM286 103h6v6h-6zM338 103h6v6h-6zM350 103h6v6h-6zM384 103h18v6h-18zM437 103h28v6h-28zM119 109h28v6h-28zM153 109h6v6h-6zM165 109h6v6h-6zM223 109h5v6h-5zM240 109h23v6h-23zM269 109h6v6h-6zM280 109h6v6h-6zM321 109h6v6h-6zM396 109h6v6h-6zM425 109h12v6h-12zM460 109h5v6h-5zM124 115h6v6h-6zM136 115h6v6h-6zM147 115h6v6h-6zM228 115h24v6h-24zM257 115h6v6h-6zM269 115h11v6h-11zM390 115h6v6h-6zM413 115h29v6h-29zM119 121h5v5h-5zM136 121h6v5h-6zM223 121h5v5h-5zM269 121h11v5h-11zM286 121h6v5h-6zM309 121h6v5h-6zM390 121h12v5h-12zM408 121h5v5h-5zM437 121h11v5h-11zM124 126h6v6h-6zM136 126h6v6h-6zM205 126h6v6h-6zM228 126h6v6h-6zM240 126h12v6h-12zM257 126h12v6h-12zM280 126h6v6h-6zM292 126h6v6h-6zM327 126h5v6h-5zM379 126h5v6h-5zM390 126h6v6h-6zM431 126h11v6h-11zM454 126h6v6h-6zM124 132h18v6h-18zM147 132h6v6h-6zM223 132h5v6h-5zM246 132h6v6h-6zM257 132h6v6h-6zM269 132h11v6h-11zM286 132h6v6h-6zM327 132h5v6h-5zM465 132h6v6h-6zM124 138h6v6h-6zM142 138h11v6h-11zM199 138h6v6h-6zM228 138h18v6h-18zM257 138h18v6h-18zM286 138h12v6h-12zM309 138h6v6h-6zM327 138h5v6h-5zM361 138h6v6h-6zM390 138h29v6h-29zM425 138h6v6h-6zM437 138h23v6h-23zM147 144h6v6h-6zM199 144h6v6h-6zM223 144h5v6h-5zM361 144h6v6h-6zM390 144h6v6h-6zM402 144h6v6h-6zM437 144h5v6h-5zM119 150h34v5h-34zM159 150h12v5h-12zM332 150h6v5h-6zM344 150h6v5h-6zM419 150h6v5h-6zM437 150h17v5h-17zM460 150h5v5h-5zM147 155h6v6h-6zM171 155h5v6h-5zM413 155h12v6h-12zM431 155h6v6h-6zM460 155h5v6h-5zM119 161h5v6h-5zM153 161h23v6h-23zM194 161h5v6h-5zM234 161h6v6h-6zM286 161h6v6h-6zM344 161h6v6h-6zM367 161h6v6h-6zM431 161h6v6h-6zM442 161h18v6h-18zM113 167h17v6h-17zM136 167h6v6h-6zM153 167h6v6h-6zM171 167h11v6h-11zM188 167h6v6h-6zM309 167h6v6h-6zM327 167h5v6h-5zM338 167h6v6h-6zM373 167h6v6h-6zM402 167h6v6h-6zM437 167h11v6h-11zM454 167h6v6h-6zM124 173h12v5h-12zM142 173h11v5h-11zM159 173h6v5h-6zM171 173h11v5h-11zM194 173h5v5h-5zM309 173h6v5h-6zM321 173h17v5h-17zM361 173h12v5h-12zM396 173h6v5h-6zM431 173h6v5h-6zM454 173h6v5h-6zM130 178h23v6h-23zM165 178h6v6h-6zM228 178h6v6h-6zM315 178h6v6h-6zM327 178h17v6h-17zM367 178h6v6h-6zM384 178h6v6h-6zM419 178h6v6h-6zM431 178h23v6h-23zM130 184h12v6h-12zM176 184h6v6h-6zM327 184h23v6h-23zM356 184h5v6h-5zM367 184h6v6h-6zM402 184h11v6h-11zM419 184h6v6h-6zM431 184h23v6h-23zM460 184h11v6h-11zM136 190h6v6h-6zM147 190h35v6h-35zM344 190h17v6h-17zM367 190h6v6h-6zM379 190h11v6h-11zM396 190h6v6h-6zM454 190h17v6h-17zM136 196h6v6h-6zM147 196h24v6h-24zM292 196h6v6h-6zM327 196h17v6h-17zM350 196h11v6h-11zM367 196h6v6h-6zM384 196h6v6h-6zM413 196h12v6h-12zM442 196h18v6h-18zM465 196h12v6h-12zM130 202h12v5h-12zM147 202h6v5h-6zM361 202h12v5h-12zM408 202h5v5h-5zM454 202h17v5h-17zM136 207h6v6h-6zM153 207h6v6h-6zM171 207h5v6h-5zM182 207h6v6h-6zM257 207h6v6h-6zM269 207h6v6h-6zM350 207h6v6h-6zM367 207h17v6h-17zM419 207h6v6h-6zM437 207h5v6h-5zM448 207h6v6h-6zM465 207h6v6h-6zM142 213h5v6h-5zM159 213h6v6h-6zM176 213h6v6h-6zM327 213h5v6h-5zM356 213h5v6h-5zM367 213h17v6h-17zM396 213h6v6h-6zM408 213h5v6h-5zM425 213h6v6h-6zM442 213h12v6h-12zM460 213h5v6h-5zM171 219h17v6h-17zM309 219h6v6h-6zM327 219h11v6h-11zM361 219h6v6h-6zM413 219h18v6h-18zM460 219h5v6h-5zM471 219h6v6h-6zM124 225h6v5h-6zM165 225h6v5h-6zM234 225h12v5h-12zM332 225h6v5h-6zM419 225h6v5h-6zM431 225h6v5h-6zM442 225h29v5h-29zM130 230h6v6h-6zM171 230h11v6h-11zM228 230h6v6h-6zM252 230h5v6h-5zM309 230h12v6h-12zM373 230h6v6h-6zM419 230h12v6h-12zM448 230h12v6h-12zM147 236h12v6h-12zM280 236h6v6h-6zM321 236h6v6h-6zM396 236h12v6h-12zM413 236h6v6h-6zM431 236h6v6h-6zM147 242h12v6h-12zM165 242h6v6h-6zM176 242h18v6h-18zM199 242h6v6h-6zM338 242h6v6h-6zM413 242h6v6h-6zM448 242h6v6h-6zM465 242h6v6h-6zM136 248h6v6h-6zM182 248h6v6h-6zM194 248h5v6h-5zM217 248h6v6h-6zM252 248h5v6h-5zM280 248h12v6h-12zM413 248h6v6h-6zM454 248h11v6h-11zM124 254h6v5h-6zM142 254h5v5h-5zM159 254h6v5h-6zM176 254h12v5h-12zM217 254h11v5h-11zM252 254h5v5h-5zM275 254h5v5h-5zM344 254h6v5h-6zM419 254h18v5h-18zM442 254h6v5h-6zM454 254h6v5h-6zM119 259h5v6h-5zM142 259h5v6h-5zM153 259h6v6h-6zM171 259h17v6h-17zM205 259h6v6h-6zM223 259h5v6h-5zM234 259h6v6h-6zM252 259h5v6h-5zM280 259h12v6h-12zM338 259h18v6h-18zM361 259h12v6h-12zM413 259h24v6h-24zM448 259h12v6h-12zM119 265h11v6h-11zM142 265h5v6h-5zM153 265h6v6h-6zM176 265h12v6h-12zM205 265h6v6h-6zM223 265h11v6h-11zM246 265h29v6h-29zM280 265h12v6h-12zM327 265h34v6h-34zM402 265h6v6h-6zM419 265h6v6h-6zM431 265h6v6h-6zM124 271h6v6h-6zM136 271h29v6h-29zM171 271h17v6h-17zM252 271h11v6h-11zM275 271h5v6h-5zM321 271h11v6h-11zM338 271h12v6h-12zM356 271h11v6h-11zM402 271h17v6h-17zM431 271h6v6h-6zM124 277h6v5h-6zM136 277h35v5h-35zM188 277h6v5h-6zM211 277h6v5h-6zM223 277h5v5h-5zM275 277h11v5h-11zM309 277h6v5h-6zM332 277h12v5h-12zM419 277h6v5h-6zM431 277h6v5h-6zM442 277h23v5h-23zM130 282h6v6h-6zM142 282h5v6h-5zM153 282h12v6h-12zM171 282h17v6h-17zM211 282h6v6h-6zM304 282h5v6h-5zM332 282h6v6h-6zM361 282h6v6h-6zM419 282h6v6h-6zM448 282h6v6h-6zM465 282h6v6h-6zM124 288h6v6h-6zM153 288h12v6h-12zM182 288h6v6h-6zM194 288h5v6h-5zM211 288h6v6h-6zM257 288h6v6h-6zM275 288h5v6h-5zM332 288h24v6h-24zM413 288h12v6h-12zM460 288h5v6h-5zM113 294h23v6h-23zM142 294h5v6h-5zM171 294h23v6h-23zM211 294h12v6h-12zM234 294h6v6h-6zM257 294h6v6h-6zM275 294h5v6h-5zM304 294h5v6h-5zM332 294h6v6h-6zM356 294h5v6h-5zM408 294h5v6h-5zM419 294h6v6h-6zM431 294h11v6h-11zM119 300h11v6h-11zM142 300h5v6h-5zM165 300h6v6h-6zM188 300h6v6h-6zM217 300h6v6h-6zM240 300h6v6h-6zM252 300h5v6h-5zM269 300h11v6h-11zM309 300h6v6h-6zM338 300h12v6h-12zM356 300h5v6h-5zM402 300h6v6h-6zM413 300h12v6h-12zM431 300h6v6h-6zM448 300h17v6h-17zM113 306h6v5h-6zM136 306h17v5h-17zM165 306h29v5h-29zM199 306h6v5h-6zM257 306h6v5h-6zM269 306h6v5h-6zM292 306h6v5h-6zM309 306h6v5h-6zM356 306h5v5h-5zM408 306h5v5h-5zM130 311h12v6h-12zM182 311h6v6h-6zM205 311h6v6h-6zM269 311h6v6h-6zM309 311h6v6h-6zM338 311h12v6h-12zM402 311h6v6h-6zM431 311h6v6h-6zM442 311h6v6h-6zM124 317h6v6h-6zM153 317h12v6h-12zM176 317h6v6h-6zM188 317h11v6h-11zM223 317h17v6h-17zM257 317h18v6h-18zM298 317h11v6h-11zM321 317h6v6h-6zM344 317h6v6h-6zM396 317h6v6h-6zM408 317h11v6h-11zM442 317h6v6h-6zM153 323h35v6h-35zM205 323h6v6h-6zM234 323h6v6h-6zM304 323h11v6h-11zM356 323h5v6h-5zM113 329h6v6h-6zM130 329h6v6h-6zM176 329h6v6h-6zM223 329h5v6h-5zM240 329h6v6h-6zM252 329h5v6h-5zM263 329h6v6h-6zM338 329h6v6h-6zM147 335h12v5h-12zM165 335h6v5h-6zM194 335h5v5h-5zM205 335h6v5h-6zM223 335h5v5h-5zM246 335h6v5h-6zM332 335h6v5h-6zM384 335h6v5h-6zM419 335h6v5h-6zM136 340h6v6h-6zM147 340h6v6h-6zM176 340h6v6h-6zM199 340h6v6h-6zM211 340h12v6h-12zM228 340h6v6h-6zM240 340h6v6h-6zM344 340h6v6h-6zM373 340h6v6h-6zM425 340h6v6h-6zM437 340h5v6h-5zM153 346h6v6h-6zM171 346h11v6h-11zM234 346h12v6h-12zM257 346h6v6h-6zM269 346h23v6h-23zM332 346h6v6h-6zM373 346h6v6h-6zM437 346h11v6h-11zM471 346h6v6h-6zM171 352h11v6h-11zM211 352h6v6h-6zM228 352h12v6h-12zM280 352h6v6h-6zM304 352h5v6h-5zM332 352h12v6h-12zM350 352h17v6h-17zM373 352h6v6h-6zM402 352h6v6h-6zM425 352h6v6h-6zM460 352h5v6h-5zM136 358h11v5h-11zM165 358h11v5h-11zM205 358h12v5h-12zM240 358h6v5h-6zM269 358h6v5h-6zM280 358h6v5h-6zM332 358h18v5h-18zM367 358h12v5h-12zM425 358h29v5h-29zM130 363h35v6h-35zM176 363h6v6h-6zM269 363h6v6h-6zM309 363h6v6h-6zM338 363h6v6h-6zM350 363h11v6h-11zM413 363h18v6h-18zM442 363h6v6h-6zM130 369h6v6h-6zM142 369h5v6h-5zM171 369h17v6h-17zM217 369h6v6h-6zM252 369h5v6h-5zM269 369h11v6h-11zM315 369h6v6h-6zM344 369h6v6h-6zM448 369h6v6h-6zM119 375h11v6h-11zM136 375h11v6h-11zM153 375h23v6h-23zM199 375h12v6h-12zM217 375h6v6h-6zM240 375h6v6h-6zM286 375h6v6h-6zM315 375h12v6h-12zM338 375h6v6h-6zM350 375h6v6h-6zM413 375h18v6h-18zM454 375h6v6h-6zM124 381h23v6h-23zM159 381h12v6h-12zM194 381h11v6h-11zM217 381h6v6h-6zM228 381h29v6h-29zM286 381h6v6h-6zM321 381h17v6h-17zM356 381h5v6h-5zM379 381h5v6h-5zM425 381h6v6h-6zM437 381h11v6h-11zM460 381h5v6h-5zM471 381h6v6h-6zM130 387h29v5h-29zM165 387h6v5h-6zM217 387h23v5h-23zM252 387h5v5h-5zM269 387h6v5h-6zM286 387h6v5h-6zM344 387h12v5h-12zM373 387h6v5h-6zM413 387h18v5h-18zM448 387h6v5h-6zM460 387h5v5h-5zM471 387h6v5h-6zM124 392h12v6h-12zM165 392h6v6h-6zM182 392h6v6h-6zM223 392h11v6h-11zM240 392h6v6h-6zM252 392h5v6h-5zM286 392h6v6h-6zM315 392h12v6h-12zM408 392h5v6h-5zM130 398h6v6h-6zM159 398h6v6h-6zM211 398h6v6h-6zM228 398h6v6h-6zM240 398h6v6h-6zM298 398h6v6h-6zM315 398h12v6h-12zM465 398h6v6h-6zM124 404h12v6h-12zM165 404h6v6h-6zM234 404h6v6h-6zM309 404h18v6h-18zM332 404h6v6h-6zM361 404h6v6h-6zM437 404h17v6h-17zM309 410h6v5h-6zM327 410h5v5h-5zM344 410h6v5h-6zM437 410h5v5h-5zM223 415h5v6h-5z"/>
<path fill="#ffa600" d="M471 58h6v5h-6zM107 69h6v5h-6zM159 74h6v6h-6zM107 86h6v6h-6zM217 86h6v6h-6zM107 92h6v5h-6zM165 97h6v6h-6zM165 126h6v6h-6zM107 132h6v6h-6zM107 138h6v6h-6zM165 138h6v6h-6zM234 421h6v7h-6zM408 421h5v7h-5z"/>
<path fill="#00ccff" d="M286 63h6v6h-6zM217 69h6v5h-6zM356 69h5v5h-5zM252 74h5v6h-5zM309 74h6v6h-6zM396 74h6v6h-6zM408 74h5v6h-5zM419 74h6v6h-6zM263 80h6v6h-6zM361 80h6v6h-6zM119 86h5v6h-5zM292 86h6v6h-6zM344 86h6v6h-6zM373 86h11v6h-11zM437 86h5v6h-5zM448 86h6v6h-6zM171 92h5v5h-5zM205 92h6v5h-6zM240 92h6v5h-6zM257 92h6v5h-6zM292 92h6v5h-6zM332 92h6v5h-6zM344 92h6v5h-6zM373 92h11v5h-11zM408 92h5v5h-5zM124 97h6v6h-6zM142 97h5v6h-5zM292 97h6v6h-6zM321 97h6v6h-6zM332 97h6v6h-6zM356 97h5v6h-5zM373 97h11v6h-11zM396 97h6v6h-6zM130 103h6v6h-6zM252 103h5v6h-5zM292 103h6v6h-6zM309 103h18v6h-18zM332 103h6v6h-6zM361 103h12v6h-12zM402 103h6v6h-6zM419 103h6v6h-6zM431 103h6v6h-6zM465 103h12v6h-12zM217 109h6v6h-6zM263 109h6v6h-6zM304 109h5v6h-5zM327 109h11v6h-11zM361 109h6v6h-6zM379 109h5v6h-5zM419 109h6v6h-6zM442 109h6v6h-6zM454 109h6v6h-6zM280 115h12v6h-12zM315 115h12v6h-12zM332 115h6v6h-6zM379 115h5v6h-5zM234 121h12v5h-12zM252 121h11v5h-11zM292 121h6v5h-6zM419 121h6v5h-6zM448 121h6v5h-6zM130 126h6v6h-6zM217 126h11v6h-11zM234 126h6v6h-6zM252 126h5v6h-5zM269 126h6v6h-6zM309 126h6v6h-6zM373 126h6v6h-6zM408 126h5v6h-5zM425 126h6v6h-6zM442 126h6v6h-6zM205 132h18v6h-18zM234 132h6v6h-6zM298 132h23v6h-23zM367 132h17v6h-17zM402 132h6v6h-6zM413 132h6v6h-6zM217 138h6v6h-6zM298 138h6v6h-6zM419 138h6v6h-6zM286 144h6v6h-6zM304 144h5v6h-5zM344 144h6v6h-6zM367 144h12v6h-12zM396 144h6v6h-6zM408 144h5v6h-5zM419 144h6v6h-6zM113 150h6v5h-6zM199 150h6v5h-6zM327 150h5v5h-5zM390 150h6v5h-6zM454 150h6v5h-6zM217 155h6v6h-6zM234 155h6v6h-6zM286 155h12v6h-12zM327 155h5v6h-5zM437 155h5v6h-5zM142 161h5v6h-5zM205 161h6v6h-6zM246 161h6v6h-6zM257 161h12v6h-12zM275 161h5v6h-5zM321 161h6v6h-6zM356 161h11v6h-11zM460 161h5v6h-5zM130 167h6v6h-6zM147 167h6v6h-6zM252 167h11v6h-11zM275 167h17v6h-17zM396 167h6v6h-6zM448 167h6v6h-6zM199 173h6v5h-6zM240 173h6v5h-6zM252 173h17v5h-17zM315 173h6v5h-6zM338 173h6v5h-6zM373 173h6v5h-6zM390 173h6v5h-6zM124 178h6v6h-6zM223 178h5v6h-5zM240 178h6v6h-6zM252 178h11v6h-11zM321 178h6v6h-6zM356 178h11v6h-11zM373 178h6v6h-6zM390 178h12v6h-12zM211 184h6v6h-6zM223 184h11v6h-11zM275 184h5v6h-5zM292 184h6v6h-6zM315 184h6v6h-6zM379 184h5v6h-5zM390 184h6v6h-6zM425 184h6v6h-6zM454 184h6v6h-6zM182 190h6v6h-6zM194 190h5v6h-5zM211 190h6v6h-6zM246 190h17v6h-17zM390 190h6v6h-6zM408 190h34v6h-34zM107 196h6v6h-6zM124 196h12v6h-12zM171 196h5v6h-5zM182 196h6v6h-6zM211 196h6v6h-6zM223 196h5v6h-5zM240 196h17v6h-17zM263 196h6v6h-6zM304 196h5v6h-5zM361 196h6v6h-6zM373 196h11v6h-11zM396 196h12v6h-12zM124 202h6v5h-6zM142 202h5v5h-5zM165 202h6v5h-6zM211 202h17v5h-17zM234 202h6v5h-6zM252 202h5v5h-5zM263 202h12v5h-12zM309 202h6v5h-6zM327 202h5v5h-5zM344 202h12v5h-12zM373 202h6v5h-6zM402 202h6v5h-6zM419 202h6v5h-6zM165 207h6v6h-6zM217 207h17v6h-17zM240 207h12v6h-12zM292 207h6v6h-6zM321 207h6v6h-6zM332 207h6v6h-6zM356 207h11v6h-11zM390 207h6v6h-6zM408 207h5v6h-5zM460 207h5v6h-5zM119 213h11v6h-11zM205 213h12v6h-12zM223 213h17v6h-17zM246 213h6v6h-6zM344 213h12v6h-12zM361 213h6v6h-6zM390 213h6v6h-6zM465 213h6v6h-6zM136 219h6v6h-6zM147 219h6v6h-6zM159 219h6v6h-6zM205 219h6v6h-6zM223 219h29v6h-29zM280 219h6v6h-6zM373 219h6v6h-6zM390 219h6v6h-6zM408 219h5v6h-5zM448 219h6v6h-6zM171 225h5v5h-5zM211 225h23v5h-23zM361 225h12v5h-12zM379 225h5v5h-5zM390 225h6v5h-6zM413 225h6v5h-6zM153 230h6v6h-6zM199 230h6v6h-6zM211 230h6v6h-6zM298 230h6v6h-6zM344 230h6v6h-6zM390 230h6v6h-6zM431 230h6v6h-6zM217 236h11v6h-11zM269 236h11v6h-11zM315 236h6v6h-6zM332 236h6v6h-6zM171 242h5v6h-5zM252 242h5v6h-5zM275 242h5v6h-5zM379 242h5v6h-5zM396 242h6v6h-6zM437 242h5v6h-5zM147 248h6v6h-6zM171 248h5v6h-5zM228 248h6v6h-6zM246 248h6v6h-6zM332 248h6v6h-6zM379 248h5v6h-5zM402 248h6v6h-6zM419 248h12v6h-12zM465 248h6v6h-6zM165 254h6v5h-6zM257 254h6v5h-6zM350 254h6v5h-6zM460 254h11v5h-11zM147 259h6v6h-6zM159 259h6v6h-6zM257 259h6v6h-6zM275 259h5v6h-5zM304 259h5v6h-5zM188 265h6v6h-6zM217 265h6v6h-6zM130 271h6v6h-6zM199 271h12v6h-12zM228 271h6v6h-6zM246 271h6v6h-6zM332 271h6v6h-6zM384 271h6v6h-6zM442 271h12v6h-12zM234 277h12v5h-12zM269 277h6v5h-6zM327 277h5v5h-5zM356 277h5v5h-5zM119 282h5v6h-5zM188 282h6v6h-6zM205 282h6v6h-6zM234 282h23v6h-23zM263 282h17v6h-17zM286 282h6v6h-6zM315 282h6v6h-6zM327 282h5v6h-5zM350 282h6v6h-6zM402 282h6v6h-6zM425 282h6v6h-6zM119 288h5v6h-5zM136 288h11v6h-11zM176 288h6v6h-6zM205 288h6v6h-6zM217 288h17v6h-17zM240 288h12v6h-12zM280 288h12v6h-12zM304 288h5v6h-5zM315 288h6v6h-6zM373 288h6v6h-6zM425 288h6v6h-6zM136 294h6v6h-6zM199 294h6v6h-6zM228 294h6v6h-6zM240 294h17v6h-17zM269 294h6v6h-6zM286 294h6v6h-6zM309 294h6v6h-6zM344 294h6v6h-6zM147 300h6v6h-6zM171 300h5v6h-5zM182 300h6v6h-6zM205 300h12v6h-12zM223 300h5v6h-5zM234 300h6v6h-6zM257 300h6v6h-6zM280 300h6v6h-6zM304 300h5v6h-5zM373 300h6v6h-6zM159 306h6v5h-6zM205 306h6v5h-6zM223 306h5v5h-5zM234 306h18v5h-18zM263 306h6v5h-6zM280 306h12v5h-12zM344 306h12v5h-12zM199 311h6v6h-6zM240 311h17v6h-17zM280 311h12v6h-12zM437 311h5v6h-5zM171 317h5v6h-5zM199 317h6v6h-6zM309 317h6v6h-6zM142 323h5v6h-5zM275 323h11v6h-11zM373 323h6v6h-6zM188 329h6v6h-6zM257 329h6v6h-6zM280 329h12v6h-12zM332 329h6v6h-6zM419 329h6v6h-6zM252 335h5v5h-5zM304 335h5v5h-5zM321 335h11v5h-11zM350 335h6v5h-6zM390 335h12v5h-12zM460 335h5v5h-5zM263 340h6v6h-6zM298 340h6v6h-6zM442 340h6v6h-6zM465 340h12v6h-12zM147 346h6v6h-6zM205 346h6v6h-6zM217 346h6v6h-6zM408 346h5v6h-5zM147 352h6v6h-6zM165 352h6v6h-6zM240 352h6v6h-6zM298 352h6v6h-6zM309 352h6v6h-6zM384 352h6v6h-6zM419 352h6v6h-6zM119 358h5v5h-5zM298 358h6v5h-6zM384 358h6v5h-6zM182 363h6v6h-6zM275 363h5v6h-5zM471 363h6v6h-6zM373 375h6v6h-6zM396 375h6v6h-6zM113 381h6v6h-6zM147 381h6v6h-6zM205 381h6v6h-6zM275 381h5v6h-5zM298 381h6v6h-6zM205 387h6v5h-6zM298 392h6v6h-6zM171 398h5v6h-5zM188 398h6v6h-6zM361 398h6v6h-6zM176 410h6v5h-6zM188 410h11v5h-11zM205 410h6v5h-6zM217 415h6v6h-6zM437 415h5v6h-5zM199 421h6v7h-6zM367 421h6v7h-6z"/>
<path fill="#00a0ff" d="M465 63h6v6h-6zM165 69h6v5h-6zM280 69h6v5h-6zM344 69h6v5h-6zM205 74h6v6h-6zM286 74h6v6h-6zM165 80h6v6h-6zM338 80h6v6h-6zM199 86h6v6h-6zM286 92h6v5h-6zM136 97h6v6h-6zM315 97h6v6h-6zM327 97h5v6h-5zM367 97h6v6h-6zM298 109h6v6h-6zM315 109h6v6h-6zM402 109h6v6h-6zM211 115h6v6h-6zM292 115h6v6h-6zM304 115h5v6h-5zM211 121h6v5h-6zM280 121h6v5h-6zM304 121h5v5h-5zM228 132h6v6h-6zM292 132h6v6h-6zM246 138h6v6h-6zM292 144h12v6h-12zM309 144h6v6h-6zM321 144h6v6h-6zM338 144h6v6h-6zM425 144h6v6h-6zM223 150h5v5h-5zM234 150h12v5h-12zM280 150h12v5h-12zM315 150h6v5h-6zM356 150h5v5h-5zM367 150h12v5h-12zM413 150h6v5h-6zM194 155h5v6h-5zM211 155h6v6h-6zM280 155h6v6h-6zM321 155h6v6h-6zM390 155h12v6h-12zM113 161h6v6h-6zM188 161h6v6h-6zM211 161h6v6h-6zM252 161h5v6h-5zM269 161h6v6h-6zM280 161h6v6h-6zM332 161h6v6h-6zM384 161h6v6h-6zM228 167h6v6h-6zM246 167h6v6h-6zM263 167h6v6h-6zM384 167h6v6h-6zM234 173h6v5h-6zM246 173h6v5h-6zM269 173h11v5h-11zM292 173h6v5h-6zM379 173h5v5h-5zM194 178h11v6h-11zM234 178h6v6h-6zM263 178h23v6h-23zM379 178h5v6h-5zM194 184h11v6h-11zM217 184h6v6h-6zM234 184h41v6h-41zM188 190h6v6h-6zM205 190h6v6h-6zM217 190h29v6h-29zM263 190h12v6h-12zM373 190h6v6h-6zM194 196h5v6h-5zM205 196h6v6h-6zM217 196h6v6h-6zM228 196h12v6h-12zM257 196h6v6h-6zM298 196h6v6h-6zM315 196h12v6h-12zM390 196h6v6h-6zM425 196h6v6h-6zM107 202h6v5h-6zM199 202h12v5h-12zM228 202h6v5h-6zM240 202h12v5h-12zM257 202h6v5h-6zM390 202h6v5h-6zM113 207h6v6h-6zM188 207h6v6h-6zM199 207h18v6h-18zM234 207h6v6h-6zM252 207h5v6h-5zM327 207h5v6h-5zM188 213h6v6h-6zM199 213h6v6h-6zM217 213h6v6h-6zM240 213h6v6h-6zM188 219h6v6h-6zM199 219h6v6h-6zM217 219h6v6h-6zM292 219h12v6h-12zM119 225h5v5h-5zM188 225h6v5h-6zM199 225h6v5h-6zM286 225h6v5h-6zM321 225h6v5h-6zM373 225h6v5h-6zM188 230h6v6h-6zM217 230h6v6h-6zM321 230h6v6h-6zM471 230h6v6h-6zM199 236h6v6h-6zM211 236h6v6h-6zM286 236h6v6h-6zM344 236h17v6h-17zM234 242h6v6h-6zM263 242h6v6h-6zM292 242h6v6h-6zM344 242h6v6h-6zM356 242h23v6h-23zM390 242h6v6h-6zM292 248h6v6h-6zM350 248h6v6h-6zM361 248h12v6h-12zM113 254h6v5h-6zM240 254h6v5h-6zM269 254h6v5h-6zM304 254h5v5h-5zM356 254h5v5h-5zM379 254h11v5h-11zM246 259h6v6h-6zM332 259h6v6h-6zM373 259h6v6h-6zM240 265h6v6h-6zM379 265h5v6h-5zM240 271h6v6h-6zM373 277h11v5h-11zM396 277h6v5h-6zM113 282h6v6h-6zM223 282h11v6h-11zM280 282h6v6h-6zM309 282h6v6h-6zM344 282h6v6h-6zM396 282h6v6h-6zM431 282h6v6h-6zM147 288h6v6h-6zM298 288h6v6h-6zM356 288h5v6h-5zM280 294h6v6h-6zM292 294h12v6h-12zM384 294h6v6h-6zM286 300h6v6h-6zM425 306h6v5h-6zM361 311h6v6h-6zM379 311h5v6h-5zM240 317h6v6h-6zM280 317h12v6h-12zM338 317h6v6h-6zM350 317h6v6h-6zM367 317h6v6h-6zM338 323h6v6h-6zM269 329h6v6h-6zM327 329h5v6h-5zM240 335h6v5h-6zM269 335h6v5h-6zM309 335h6v5h-6zM402 335h6v5h-6zM425 335h6v5h-6zM223 340h5v6h-5zM390 340h6v6h-6zM419 340h6v6h-6zM460 340h5v6h-5zM107 346h6v6h-6zM119 346h5v6h-5zM130 346h6v6h-6zM465 346h6v6h-6zM124 352h6v6h-6zM205 352h6v6h-6zM188 358h6v5h-6zM471 358h6v5h-6zM298 363h6v6h-6zM471 369h6v6h-6zM113 375h6v6h-6zM194 375h5v6h-5zM298 375h6v6h-6zM367 381h12v6h-12zM465 381h6v6h-6zM176 387h6v5h-6zM188 387h11v5h-11zM367 387h6v5h-6zM199 392h12v6h-12zM402 392h6v6h-6zM402 398h6v6h-6zM211 410h12v5h-12zM176 415h6v6h-6zM425 415h6v6h-6zM176 421h12v7h-12z"/>
<path fill="#ffe900" d="M240 69h6v5h-6zM165 236h6v6h-6zM471 271h6v6h-6zM471 288h6v6h-6zM246 404h6v6h-6zM240 421h6v7h-6zM437 421h5v7h-5z"/>
<path fill="#b10000" d="M107 80h6v6h-6zM361 421h6v7h-6z"/>
<path fill="#ff6400" d="M153 80h6v6h-6zM107 103h6v6h-6zM165 144h6v6h-6zM194 398h5v6h-5zM338 421h6v7h-6z"/>
<path fill="#ff2100" d="M153 86h6v6h-6zM153 144h6v6h-6zM350 421h6v7h-6z"/>
<path fill="#0000de" d="M309 161h6v6h-6zM304 167h5v6h-5zM304 173h5v5h-5zM304 178h5v6h-5zM292 277h6v5h-6zM384 387h6v5h-6zM182 398h6v6h-6zM176 404h12v6h-12z"/>
<path fill="#caff2c" d="M471 242h6v6h-6zM309 265h6v6h-6zM286 404h6v6h-6zM199 410h6v5h-6zM228 415h6v6h-6zM205 421h6v7h-6z"/>
<path fill="#e80000" d="M153 421h6v7h-6zM298 421h6v7h-6z"/>
<path fill="#7f0000" d="M442 421h6v7h-6z"/>
</g>
<g stroke="#000" stroke-width="1.111" fill="none">
<rect x="107.5" y="58.5" width="370" height="369"/>
<path d="M110.5 427.2v5.4"/>
<path d="M168.5 427.2v5.4"/>
<path d="M226.5 427.2v5.4"/>
<path d="M283.5 427.2v5.4"/>
<path d="M341.5 427.2v5.4"/>
<path d="M399.5 427.2v5.4"/>
<path d="M457.5 427.2v5.4"/>
<path d="M107.2 78.5h-4.86"/>
<path d="M107.2 136.5h-4.86"/>
<path d="M107.2 193.5h-4.86"/>
<path d="M107.2 251.5h-4.86"/>
<path d="M107.2 309.5h-4.86"/>
<path d="M107.2 367.5h-4.86"/>
<path d="M107.2 424.5h-4.86"/>
</g>
<g font-size="13.889px" letter-spacing="-0.4px">
<text x="528.95" y="416.21">0</text>
<text x="527.70" y="376.20">50</text>
<text x="528.71" y="336.98">100</text>
<text x="528.81" y="296.95">150</text>
<text x="528.46" y="256.94">200</text>
<text x="528.46" y="217.91">250</text>
<text x="527.76" y="177.93">300</text>
<text x="527.84" y="138.85">350</text>
<text x="528.67" y="98.83">400</text>
<text x="106.93" y="448.21">0</text>
<text x="159.76" y="447.81">10</text>
<text x="217.18" y="447.82">20</text>
<text x="274.69" y="447.76">30</text>
<text x="332.76" y="447.62">40</text>
<text x="389.66" y="448.19">50</text>
<text x="448.26" y="448.37">60</text>
<text x="90.02" y="430.19">0</text>
<text x="79.77" y="371.81">10</text>
<text x="80.20" y="313.82">20</text>
<text x="79.69" y="256.75">30</text>
<text x="80.65" y="198.63">40</text>
<text x="79.68" y="141.21">50</text>
<text x="80.27" y="83.37">60</text>
</g>
<text x="291.70" y="48.70" font-size="16.667px" text-anchor="middle" textLength="135.5" lengthAdjust="spacing">Quadrant 3 DPH</text>
<text x="320.60" y="19.50" font-size="12.5px" text-anchor="middle" textLength="537.4" lengthAdjust="spacing">Data file: modeM0/AS1A10_121T01_9000004134_28836cztM0_level2_quad_clean.evt</text>
<defs><clipPath id="cbc"><path d="M501.60 74.40L510.00 57.60L518.40 74.40L518.40 410.40L510.00 427.20L501.60 410.40z"/></clipPath></defs>
<g clip-path="url(#cbc)" shape-rendering="crispEdges">
<rect x="501" y="56" width="18" height="19" fill="#7f0000"/>
<rect x="501" y="410" width="18" height="19" fill="#00007f"/>
<rect x="501" y="74" width="18" height="2" fill="#7f0000"/>
<rect x="501" y="76" width="18" height="1" fill="#840000"/>
<rect x="501" y="77" width="18" height="1" fill="#880000"/>
<rect x="501" y="78" width="18" height="2" fill="#8d0000"/>
<rect x="501" y="80" width="18" height="1" fill="#910000"/>
<rect x="501" y="81" width="18" height="1" fill="#960000"/>
<rect x="501" y="82" width="18" height="2" fill="#9a0000"/>
<rect x="501" y="84" width="18" height="1" fill="#9f0000"/>
<rect x="501" y="85" width="18" height="1" fill="#a30000"/>
<rect x="501" y="86" width="18" height="2" fill="#a80000"/>
<rect x="501" y="88" width="18" height="1" fill="#ac0000"/>
<rect x="501" y="89" width="18" height="1" fill="#b10000"/>
<rect x="501" y="90" width="18" height="1" fill="#b60000"/>
<rect x="501" y="91" width="18" height="2" fill="#ba0000"/>
<rect x="501" y="93" width="18" height="1" fill="#bf0000"/>
<rect x="501" y="94" width="18" height="1" fill="#c30000"/>
<rect x="501" y="95" width="18" height="2" fill="#c80000"/>
<rect x="501" y="97" width="18" height="1" fill="#cc0000"/>
<rect x="501" y="98" width="18" height="1" fill="#d10000"/>
<rect x="501" y="99" width="18" height="2" fill="#d50000"/>
<rect x="501" y="101" width="18" height="1" fill="#da0000"/>
<rect x="501" y="102" width="18" height="1" fill="#de0000"/>
<rect x="501" y="103" width="18" height="2" fill="#e30000"/>
<rect x="501" y="105" width="18" height="1" fill="#e80000"/>
<rect x="501" y="106" width="18" height="1" fill="#ec0300"/>
<rect x="501" y="107" width="18" height="2" fill="#f10700"/>
<rect x="501" y="109" width="18" height="1" fill="#f50b00"/>
<rect x="501" y="110" width="18" height="1" fill="#fa0f00"/>
<rect x="501" y="111" width="18" height="1" fill="#fe1200"/>
<rect x="501" y="112" width="18" height="2" fill="#ff1600"/>
<rect x="501" y="114" width="18" height="1" fill="#ff1a00"/>
<rect x="501" y="115" width="18" height="1" fill="#ff1d00"/>
<rect x="501" y="116" width="18" height="2" fill="#ff2100"/>
<rect x="501" y="118" width="18" height="1" fill="#ff2500"/>
<rect x="501" y="119" width="18" height="1" fill="#ff2800"/>
<rect x="501" y="120" width="18" height="2" fill="#ff2c00"/>
<rect x="501" y="122" width="18" height="1" fill="#ff3000"/>
<rect x="501" y="123" width="18" height="1" fill="#ff3400"/>
<rect x="501" y="124" width="18" height="2" fill="#ff3700"/>
<rect x="501" y="126" width="18" height="1" fill="#ff3b00"/>
<rect x="501" y="127" width="18" height="1" fill="#ff3f00"/>
<rect x="501" y="128" width="18" height="2" fill="#ff4200"/>
<rect x="501" y="130" width="18" height="1" fill="#ff4600"/>
<rect x="501" y="131" width="18" height="1" fill="#ff4a00"/>
<rect x="501" y="132" width="18" height="1" fill="#ff4d00"/>
<rect x="501" y="133" width="18" height="2" fill="#ff5100"/>
<rect x="501" y="135" width="18" height="1" fill="#ff5500"/>
<rect x="501" y="136" width="18" height="1" fill="#ff5900"/>
<rect x="501" y="137" width="18" height="2" fill="#ff5c00"/>
<rect x="501" y="139" width="18" height="1" fill="#ff6000"/>
<rect x="501" y="140" width="18" height="1" fill="#ff6400"/>
<rect x="501" y="141" width="18" height="2" fill="#ff6700"/>
<rect x="501" y="143" width="18" height="1" fill="#ff6b00"/>
<rect x="501" y="144" width="18" height="1" fill="#ff6f00"/>
<rect x="501" y="145" width="18" height="2" fill="#ff7300"/>
<rect x="501" y="147" width="18" height="1" fill="#ff7600"/>
<rect x="501" y="148" width="18" height="1" fill="#ff7a00"/>
<rect x="501" y="149" width="18" height="2" fill="#ff7e00"/>
<rect x="501" y="151" width="18" height="1" fill="#ff8100"/>
<rect x="501" y="152" width="18" height="1" fill="#ff8500"/>
<rect x="501" y="153" width="18" height="1" fill="#ff8900"/>
<rect x="501" y="154" width="18" height="2" fill="#ff8c00"/>
<rect x="501" y="156" width="18" height="1" fill="#ff9000"/>
<rect x="501" y="157" width="18" height="1" fill="#ff9400"/>
<rect x="501" y="158" width="18" height="2" fill="#ff9800"/>
<rect x="501" y="160" width="18" height="1" fill="#ff9b00"/>
<rect x="501" y="161" width="18" height="1" fill="#ff9f00"/>
<rect x="501" y="162" width="18" height="2" fill="#ffa300"/>
<rect x="501" y="164" width="18" height="1" fill="#ffa600"/>
<rect x="501" y="165" width="18" height="1" fill="#ffaa00"/>
<rect x="501" y="166" width="18" height="2" fill="#ffae00"/>
<rect x="501" y="168" width="18" height="1" fill="#ffb100"/>
<rect x="501" y="169" width="18" height="1" fill="#ffb500"/>
<rect x="501" y="170" width="18" height="2" fill="#ffb900"/>
<rect x="501" y="172" width="18" height="1" fill="#ffbd00"/>
<rect x="501" y="173" width="18" height="1" fill="#ffc000"/>
<rect x="501" y="174" width="18" height="1" fill="#ffc400"/>
<rect x="501" y="175" width="18" height="2" fill="#ffc800"/>
<rect x="501" y="177" width="18" height="1" fill="#ffcb00"/>
<rect x="501" y="178" width="18" height="1" fill="#ffcf00"/>
<rect x="501" y="179" width="18" height="2" fill="#ffd300"/>
<rect x="501" y="181" width="18" height="1" fill="#ffd700"/>
<rect x="501" y="182" width="18" height="1" fill="#ffda00"/>
<rect x="501" y="183" width="18" height="2" fill="#ffde00"/>
<rect x="501" y="185" width="18" height="1" fill="#ffe200"/>
<rect x="501" y="186" width="18" height="1" fill="#ffe500"/>
<rect x="501" y="187" width="18" height="2" fill="#ffe900"/>
<rect x="501" y="189" width="18" height="1" fill="#feed00"/>
<rect x="501" y="190" width="18" height="1" fill="#faf000"/>
<rect x="501" y="191" width="18" height="2" fill="#f7f400"/>
<rect x="501" y="193" width="18" height="1" fill="#f4f802"/>
<rect x="501" y="194" width="18" height="1" fill="#f1fc05"/>
<rect x="501" y="195" width="18" height="1" fill="#edff08"/>
<rect x="501" y="196" width="18" height="2" fill="#eaff0c"/>
<rect x="501" y="198" width="18" height="1" fill="#e7ff0f"/>
<rect x="501" y="199" width="18" height="1" fill="#e4ff12"/>
<rect x="501" y="200" width="18" height="2" fill="#e0ff15"/>
<rect x="501" y="202" width="18" height="1" fill="#ddff18"/>
<rect x="501" y="203" width="18" height="1" fill="#daff1c"/>
<rect x="501" y="204" width="18" height="2" fill="#d7ff1f"/>
<rect x="501" y="206" width="18" height="1" fill="#d4ff22"/>
<rect x="501" y="207" width="18" height="1" fill="#d0ff25"/>
<rect x="501" y="208" width="18" height="2" fill="#cdff29"/>
<rect x="501" y="210" width="18" height="1" fill="#caff2c"/>
<rect x="501" y="211" width="18" height="1" fill="#c7ff2f"/>
<rect x="501" y="212" width="18" height="2" fill="#c3ff32"/>
<rect x="501" y="214" width="18" height="1" fill="#c0ff36"/>
<rect x="501" y="215" width="18" height="1" fill="#bdff39"/>
<rect x="501" y="216" width="18" height="1" fill="#baff3c"/>
<rect x="501" y="217" width="18" height="2" fill="#b7ff3f"/>
<rect x="501" y="219" width="18" height="1" fill="#b3ff42"/>
<rect x="501" y="220" width="18" height="1" fill="#b0ff46"/>
<rect x="501" y="221" width="18" height="2" fill="#adff49"/>
<rect x="501" y="223" width="18" height="1" fill="#aaff4c"/>
<rect x="501" y="224" width="18" height="1" fill="#a6ff4f"/>
<rect x="501" y="225" width="18" height="2" fill="#a3ff53"/>
<rect x="501" y="227" width="18" height="1" fill="#a0ff56"/>
<rect x="501" y="228" width="18" height="1" fill="#9dff59"/>
<rect x="501" y="229" width="18" height="2" fill="#9aff5c"/>
<rect x="501" y="231" width="18" height="1" fill="#96ff5f"/>
<rect x="501" y="232" width="18" height="1" fill="#93ff63"/>
<rect x="501" y="233" width="18" height="2" fill="#90ff66"/>
<rect x="501" y="235" width="18" height="1" fill="#8dff69"/>
<rect x="501" y="236" width="18" height="1" fill="#89ff6c"/>
<rect x="501" y="237" width="18" height="1" fill="#86ff70"/>
<rect x="501" y="238" width="18" height="2" fill="#83ff73"/>
<rect x="501" y="240" width="18" height="1" fill="#80ff76"/>
<rect x="501" y="241" width="18" height="1" fill="#7cff79"/>
<rect x="501" y="242" width="18" height="2" fill="#79ff7d"/>
<rect x="501" y="244" width="18" height="1" fill="#76ff80"/>
<rect x="501" y="245" width="18" height="1" fill="#73ff83"/>
<rect x="501" y="246" width="18" height="2" fill="#70ff86"/>
<rect x="501" y="248" width="18" height="1" fill="#6cff89"/>
<rect x="501" y="249" width="18" height="1" fill="#69ff8d"/>
<rect x="501" y="250" width="18" height="2" fill="#66ff90"/>
<rect x="501" y="252" width="18" height="1" fill="#63ff93"/>
<rect x="501" y="253" width="18" height="1" fill="#5fff96"/>
<rect x="501" y="254" width="18" height="2" fill="#5cff9a"/>
<rect x="501" y="256" width="18" height="1" fill="#59ff9d"/>
<rect x="501" y="257" width="18" height="1" fill="#56ffa0"/>
<rect x="501" y="258" width="18" height="1" fill="#53ffa3"/>
<rect x="501" y="259" width="18" height="2" fill="#4fffa6"/>
<rect x="501" y="261" width="18" height="1" fill="#4cffaa"/>
<rect x="501" y="262" width="18" height="1" fill="#49ffad"/>
<rect x="501" y="263" width="18" height="2" fill="#46ffb0"/>
<rect x="501" y="265" width="18" height="1" fill="#42ffb3"/>
<rect x="501" y="266" width="18" height="1" fill="#3fffb7"/>
<rect x="501" y="267" width="18" height="2" fill="#3cffba"/>
<rect x="501" y="269" width="18" height="1" fill="#39ffbd"/>
<rect x="501" y="270" width="18" height="1" fill="#36ffc0"/>
<rect x="501" y="271" width="18" height="2" fill="#32ffc3"/>
<rect x="501" y="273" width="18" height="1" fill="#2fffc7"/>
<rect x="501" y="274" width="18" height="1" fill="#2cffca"/>
<rect x="501" y="275" width="18" height="2" fill="#29ffcd"/>
<rect x="501" y="277" width="18" height="1" fill="#25ffd0"/>
<rect x="501" y="278" width="18" height="1" fill="#22ffd4"/>
<rect x="501" y="279" width="18" height="1" fill="#1fffd7"/>
<rect x="501" y="280" width="18" height="2" fill="#1cffda"/>
<rect x="501" y="282" width="18" height="1" fill="#18ffdd"/>
<rect x="501" y="283" width="18" height="1" fill="#15ffe1"/>
<rect x="501" y="284" width="18" height="2" fill="#12fce4"/>
<rect x="501" y="286" width="18" height="1" fill="#0ff8e7"/>
<rect x="501" y="287" width="18" height="1" fill="#0cf4ea"/>
<rect x="501" y="288" width="18" height="2" fill="#08f0ed"/>
<rect x="501" y="290" width="18" height="1" fill="#05ecf1"/>
<rect x="501" y="291" width="18" height="1" fill="#02e8f4"/>
<rect x="501" y="292" width="18" height="2" fill="#00e4f7"/>
<rect x="501" y="294" width="18" height="1" fill="#00e0fa"/>
<rect x="501" y="295" width="18" height="1" fill="#00dcfe"/>
<rect x="501" y="296" width="18" height="2" fill="#00d8ff"/>
<rect x="501" y="298" width="18" height="1" fill="#00d4ff"/>
<rect x="501" y="299" width="18" height="1" fill="#00d0ff"/>
<rect x="501" y="300" width="18" height="1" fill="#00ccff"/>
<rect x="501" y="301" width="18" height="2" fill="#00c8ff"/>
<rect x="501" y="303" width="18" height="1" fill="#00c4ff"/>
<rect x="501" y="304" width="18" height="1" fill="#00c0ff"/>
<rect x="501" y="305" width="18" height="2" fill="#00bcff"/>
<rect x="501" y="307" width="18" height="1" fill="#00b8ff"/>
<rect x="501" y="308" width="18" height="1" fill="#00b4ff"/>
<rect x="501" y="309" width="18" height="2" fill="#00b0ff"/>
<rect x="501" y="311" width="18" height="1" fill="#00acff"/>
<rect x="501" y="312" width="18" height="1" fill="#00a8ff"/>
<rect x="501" y="313" width="18" height="2" fill="#00a4ff"/>
<rect x="501" y="315" width="18" height="1" fill="#00a0ff"/>
<rect x="501" y="316" width="18" height="1" fill="#009cff"/>
<rect x="501" y="317" width="18" height="2" fill="#0098ff"/>
<rect x="501" y="319" width="18" height="1" fill="#0094ff"/>
<rect x="501" y="320" width="18" height="1" fill="#0090ff"/>
<rect x="501" y="321" width="18" height="1" fill="#008cff"/>
<rect x="501" y="322" width="18" height="2" fill="#0088ff"/>
<rect x="501" y="324" width="18" height="1" fill="#0084ff"/>
<rect x="501" y="325" width="18" height="1" fill="#0080ff"/>
<rect x="501" y="326" width="18" height="2" fill="#007cff"/>
<rect x="501" y="328" width="18" height="1" fill="#0078ff"/>
<rect x="501" y="329" width="18" height="1" fill="#0074ff"/>
<rect x="501" y="330" width="18" height="2" fill="#0070ff"/>
<rect x="501" y="332" width="18" height="1" fill="#006cff"/>
<rect x="501" y="333" width="18" height="1" fill="#0068ff"/>
<rect x="501" y="334" width="18" height="2" fill="#0064ff"/>
<rect x="501" y="336" width="18" height="1" fill="#0060ff"/>
<rect x="501" y="337" width="18" height="1" fill="#005cff"/>
<rect x="501" y="338" width="18" height="2" fill="#0058ff"/>
<rect x="501" y="340" width="18" height="1" fill="#0054ff"/>
<rect x="501" y="341" width="18" height="1" fill="#0050ff"/>
<rect x="501" y="342" width="18" height="1" fill="#004cff"/>
<rect x="501" y="343" width="18" height="2" fill="#0048ff"/>
<rect x="501" y="345" width="18" height="1" fill="#0044ff"/>
<rect x="501" y="346" width="18" height="1" fill="#0040ff"/>
<rect x="501" y="347" width="18" height="2" fill="#003cff"/>
<rect x="501" y="349" width="18" height="1" fill="#0038ff"/>
<rect x="501" y="350" width="18" height="1" fill="#0034ff"/>
<rect x="501" y="351" width="18" height="2" fill="#0030ff"/>
<rect x="501" y="353" width="18" height="1" fill="#002cff"/>
<rect x="501" y="354" width="18" height="1" fill="#0028ff"/>
<rect x="501" y="355" width="18" height="2" fill="#0024ff"/>
<rect x="501" y="357" width="18" height="1" fill="#0020ff"/>
<rect x="501" y="358" width="18" height="1" fill="#001cff"/>
<rect x="501" y="359" width="18" height="2" fill="#0018ff"/>
<rect x="501" y="361" width="18" height="1" fill="#0014ff"/>
<rect x="501" y="362" width="18" height="1" fill="#0010ff"/>
<rect x="501" y="363" width="18" height="1" fill="#000cff"/>
<rect x="501" y="364" width="18" height="2" fill="#0008ff"/>
<rect x="501" y="366" width="18" height="1" fill="#0004ff"/>
<rect x="501" y="367" width="18" height="5" fill="#0000ff"/>
<rect x="501" y="372" width="18" height="2" fill="#0000fe"/>
<rect x="501" y="374" width="18" height="1" fill="#0000fa"/>
<rect x="501" y="375" width="18" height="1" fill="#0000f5"/>
<rect x="501" y="376" width="18" height="2" fill="#0000f1"/>
<rect x="501" y="378" width="18" height="1" fill="#0000ec"/>
<rect x="501" y="379" width="18" height="1" fill="#0000e8"/>
<rect x="501" y="380" width="18" height="2" fill="#0000e3"/>
<rect x="501" y="382" width="18" height="1" fill="#0000de"/>
<rect x="501" y="383" width="18" height="1" fill="#0000da"/>
<rect x="501" y="384" width="18" height="1" fill="#0000d5"/>
<rect x="501" y="385" width="18" height="2" fill="#0000d1"/>
<rect x="501" y="387" width="18" height="1" fill="#0000cc"/>
<rect x="501" y="388" width="18" height="1" fill="#0000c8"/>
<rect x="501" y="389" width="18" height="2" fill="#0000c3"/>
<rect x="501" y="391" width="18" height="1" fill="#0000bf"/>
<rect x="501" y="392" width="18" height="1" fill="#0000ba"/>
<rect x="501" y="393" width="18" height="2" fill="#0000b6"/>
<rect x="501" y="395" width="18" height="1" fill="#0000b1"/>
<rect x="501" y="396" width="18" height="1" fill="#0000ac"/>
<rect x="501" y="397" width="18" height="2" fill="#0000a8"/>
<rect x="501" y="399" width="18" height="1" fill="#0000a3"/>
<rect x="501" y="400" width="18" height="1" fill="#00009f"/>
<rect x="501" y="401" width="18" height="2" fill="#00009a"/>
<rect x="501" y="403" width="18" height="1" fill="#000096"/>
<rect x="501" y="404" width="18" height="1" fill="#000091"/>
<rect x="501" y="405" width="18" height="1" fill="#00008d"/>
<rect x="501" y="406" width="18" height="2" fill="#000088"/>
<rect x="501" y="408" width="18" height="1" fill="#000084"/>
<rect x="501" y="409" width="18" height="2" fill="#00007f"/>
</g>
<g stroke="#000" stroke-width="1.111" fill="none" stroke-linejoin="round">
<path d="M501.60 74.40L510.00 57.60L518.40 74.40L518.40 410.40L510.00 427.20L501.60 410.40z"/>
<path d="M518.40 410.5h5.2"/>
<path d="M518.40 371.5h5.2"/>
<path d="M518.40 331.5h5.2"/>
<path d="M518.40 292.5h5.2"/>
<path d="M518.40 252.5h5.2"/>
<path d="M518.40 212.5h5.2"/>
<path d="M518.40 173.5h5.2"/>
<path d="M518.40 133.5h5.2"/>
<path d="M518.40 93.5h5.2"/>
</g>
</svg></body></html>
